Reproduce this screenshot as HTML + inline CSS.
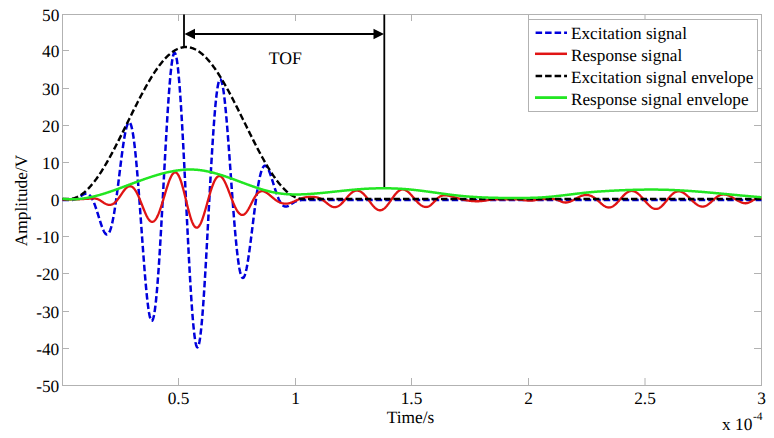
<!DOCTYPE html>
<html><head><meta charset="utf-8"><style>
html,body{margin:0;padding:0;background:#fff;width:774px;height:438px;overflow:hidden}
svg{display:block}
text{font-family:"Liberation Serif",serif;font-size:17.33px;fill:#000;text-rendering:geometricPrecision}
</style></head><body>
<svg width="774" height="438" viewBox="0 0 774 438">
<rect x="0" y="0" width="774" height="438" fill="#fff"/>
<rect x="62.5" y="14.5" width="699" height="371" fill="none" stroke="#b2b2b2" stroke-width="1"/>
<path d="M178.5,385 V378 M178.5,14 V21 M295.5,385 V378 M295.5,14 V21 M411.5,385 V378 M411.5,14 V21 M528.5,385 V378 M528.5,14 V21 M645.0,385 V378 M645.0,14 V21 M62,50.5 H69 M761,50.5 H754 M62,88.5 H69 M761,88.5 H754 M62,125.5 H69 M761,125.5 H754 M62,162.5 H69 M761,162.5 H754 M62,199.5 H69 M761,199.5 H754 M62,236.5 H69 M761,236.5 H754 M62,273.5 H69 M761,273.5 H754 M62,311.5 H69 M761,311.5 H754 M62,348.5 H69 M761,348.5 H754" stroke="#b2b2b2" stroke-width="1" fill="none"/>
<g fill="none" stroke-linejoin="round">
<path d="M62.50,200.10 L63.00,200.10 L63.50,200.10 L64.00,200.10 L64.50,200.10 L65.00,200.10 L65.50,200.10 L66.00,200.10 L66.50,200.10 L67.00,200.10 L67.50,200.10 L68.00,200.10 L68.50,200.10 L69.00,200.10 L69.50,200.10 L70.00,200.10 L70.50,200.09 L71.00,200.07 L71.50,200.04 L72.00,199.99 L72.50,199.93 L73.00,199.85 L73.50,199.75 L74.00,199.64 L74.50,199.50 L75.00,199.33 L75.50,199.15 L76.00,198.94 L76.50,198.71 L77.00,198.46 L77.50,198.18 L78.00,197.90 L78.50,197.59 L79.00,197.27 L79.50,196.94 L80.00,196.61 L80.50,196.27 L81.00,195.93 L81.50,195.60 L82.00,195.27 L82.50,194.96 L83.00,194.68 L83.50,194.41 L84.00,194.18 L84.50,193.99 L85.00,193.83 L85.50,193.72 L86.00,193.67 L86.50,193.67 L87.00,193.73 L87.50,193.86 L88.00,194.06 L88.50,194.33 L89.00,194.68 L89.50,195.12 L90.00,195.63 L90.50,196.23 L91.00,196.92 L91.50,197.69 L92.00,198.55 L92.50,199.49 L93.00,200.52 L93.50,201.63 L94.00,202.82 L94.50,204.08 L95.00,205.41 L95.50,206.80 L96.00,208.25 L96.50,209.75 L97.00,211.29 L97.50,212.86 L98.00,214.46 L98.50,216.08 L99.00,217.70 L99.50,219.31 L100.00,220.90 L100.50,222.46 L101.00,223.99 L101.50,225.45 L102.00,226.85 L102.50,228.17 L103.00,229.40 L103.50,230.53 L104.00,231.54 L104.50,232.42 L105.00,233.16 L105.50,233.75 L106.00,234.18 L106.50,234.43 L107.00,234.51 L107.50,234.40 L108.00,234.09 L108.50,233.57 L109.00,232.85 L109.50,231.92 L110.00,230.77 L110.50,229.40 L111.00,227.82 L111.50,226.02 L112.00,224.00 L112.50,221.77 L113.00,219.33 L113.50,216.69 L114.00,213.86 L114.50,210.85 L115.00,207.66 L115.50,204.31 L116.00,200.82 L116.50,197.19 L117.00,193.44 L117.50,189.60 L118.00,185.67 L118.50,181.68 L119.00,177.65 L119.50,173.59 L120.00,169.54 L120.50,165.51 L121.00,161.52 L121.50,157.60 L122.00,153.77 L122.50,150.06 L123.00,146.49 L123.50,143.08 L124.00,139.85 L124.50,136.83 L125.00,134.04 L125.50,131.50 L126.00,129.23 L126.50,127.24 L127.00,125.57 L127.50,124.22 L128.00,123.22 L128.50,122.56 L129.00,122.28 L129.50,122.37 L130.00,122.84 L130.50,123.71 L131.00,124.98 L131.50,126.64 L132.00,128.71 L132.50,131.17 L133.00,134.03 L133.50,137.28 L134.00,140.91 L134.50,144.91 L135.00,149.26 L135.50,153.96 L136.00,158.99 L136.50,164.32 L137.00,169.94 L137.50,175.82 L138.00,181.94 L138.50,188.27 L139.00,194.78 L139.50,201.44 L140.00,208.23 L140.50,215.11 L141.00,222.05 L141.50,229.00 L142.00,235.95 L142.50,242.85 L143.00,249.67 L143.50,256.37 L144.00,262.91 L144.50,269.27 L145.00,275.40 L145.50,281.28 L146.00,286.86 L146.50,292.12 L147.00,297.02 L147.50,301.54 L148.00,305.64 L148.50,309.30 L149.00,312.50 L149.50,315.22 L150.00,317.42 L150.50,319.11 L151.00,320.25 L151.50,320.83 L152.00,320.86 L152.50,320.31 L153.00,319.19 L153.50,317.49 L154.00,315.22 L154.50,312.38 L155.00,308.97 L155.50,305.01 L156.00,300.51 L156.50,295.49 L157.00,289.96 L157.50,283.94 L158.00,277.47 L158.50,270.57 L159.00,263.26 L159.50,255.59 L160.00,247.57 L160.50,239.26 L161.00,230.68 L161.50,221.88 L162.00,212.90 L162.50,203.78 L163.00,194.56 L163.50,185.29 L164.00,176.01 L164.50,166.77 L165.00,157.61 L165.50,148.57 L166.00,139.71 L166.50,131.07 L167.00,122.69 L167.50,114.61 L168.00,106.87 L168.50,99.52 L169.00,92.59 L169.50,86.12 L170.00,80.14 L170.50,74.68 L171.00,69.78 L171.50,65.46 L172.00,61.74 L172.50,58.65 L173.00,56.20 L173.50,54.41 L174.00,53.28 L174.50,52.84 L175.00,53.08 L175.50,54.00 L176.00,55.60 L176.50,57.88 L177.00,60.83 L177.50,64.44 L178.00,68.69 L178.50,73.55 L179.00,79.02 L179.50,85.07 L180.00,91.66 L180.50,98.77 L181.00,106.37 L181.50,114.41 L182.00,122.86 L182.50,131.68 L183.00,140.84 L183.50,150.27 L184.00,159.95 L184.50,169.81 L185.00,179.83 L185.50,189.94 L186.00,200.10 L186.50,210.26 L187.00,220.37 L187.50,230.39 L188.00,240.25 L188.50,249.93 L189.00,259.36 L189.50,268.52 L190.00,277.34 L190.50,285.79 L191.00,293.83 L191.50,301.43 L192.00,308.54 L192.50,315.13 L193.00,321.18 L193.50,326.65 L194.00,331.51 L194.50,335.76 L195.00,339.37 L195.50,342.32 L196.00,344.60 L196.50,346.20 L197.00,347.12 L197.50,347.36 L198.00,346.92 L198.50,345.79 L199.00,344.00 L199.50,341.55 L200.00,338.46 L200.50,334.74 L201.00,330.42 L201.50,325.52 L202.00,320.06 L202.50,314.08 L203.00,307.61 L203.50,300.68 L204.00,293.33 L204.50,285.59 L205.00,277.51 L205.50,269.13 L206.00,260.49 L206.50,251.63 L207.00,242.59 L207.50,233.43 L208.00,224.19 L208.50,214.91 L209.00,205.64 L209.50,196.42 L210.00,187.30 L210.50,178.32 L211.00,169.52 L211.50,160.94 L212.00,152.63 L212.50,144.61 L213.00,136.94 L213.50,129.63 L214.00,122.73 L214.50,116.26 L215.00,110.24 L215.50,104.71 L216.00,99.69 L216.50,95.19 L217.00,91.23 L217.50,87.82 L218.00,84.98 L218.50,82.71 L219.00,81.01 L219.50,79.89 L220.00,79.34 L220.50,79.37 L221.00,79.95 L221.50,81.09 L222.00,82.78 L222.50,84.98 L223.00,87.70 L223.50,90.90 L224.00,94.56 L224.50,98.66 L225.00,103.18 L225.50,108.08 L226.00,113.34 L226.50,118.92 L227.00,124.80 L227.50,130.93 L228.00,137.29 L228.50,143.83 L229.00,150.53 L229.50,157.35 L230.00,164.25 L230.50,171.20 L231.00,178.15 L231.50,185.09 L232.00,191.97 L232.50,198.76 L233.00,205.42 L233.50,211.93 L234.00,218.26 L234.50,224.38 L235.00,230.26 L235.50,235.88 L236.00,241.21 L236.50,246.24 L237.00,250.94 L237.50,255.29 L238.00,259.29 L238.50,262.92 L239.00,266.17 L239.50,269.03 L240.00,271.49 L240.50,273.56 L241.00,275.22 L241.50,276.49 L242.00,277.36 L242.50,277.83 L243.00,277.92 L243.50,277.64 L244.00,276.98 L244.50,275.98 L245.00,274.63 L245.50,272.96 L246.00,270.97 L246.50,268.70 L247.00,266.16 L247.50,263.37 L248.00,260.35 L248.50,257.12 L249.00,253.71 L249.50,250.14 L250.00,246.43 L250.50,242.60 L251.00,238.68 L251.50,234.69 L252.00,230.66 L252.50,226.61 L253.00,222.55 L253.50,218.52 L254.00,214.53 L254.50,210.60 L255.00,206.76 L255.50,203.01 L256.00,199.38 L256.50,195.89 L257.00,192.54 L257.50,189.35 L258.00,186.34 L258.50,183.51 L259.00,180.87 L259.50,178.43 L260.00,176.20 L260.50,174.18 L261.00,172.38 L261.50,170.80 L262.00,169.43 L262.50,168.28 L263.00,167.35 L263.50,166.63 L264.00,166.11 L264.50,165.80 L265.00,165.69 L265.50,165.77 L266.00,166.02 L266.50,166.45 L267.00,167.04 L267.50,167.78 L268.00,168.66 L268.50,169.67 L269.00,170.80 L269.50,172.03 L270.00,173.35 L270.50,174.75 L271.00,176.21 L271.50,177.74 L272.00,179.30 L272.50,180.89 L273.00,182.50 L273.50,184.12 L274.00,185.74 L274.50,187.34 L275.00,188.91 L275.50,190.45 L276.00,191.95 L276.50,193.40 L277.00,194.79 L277.50,196.12 L278.00,197.38 L278.50,198.57 L279.00,199.68 L279.50,200.71 L280.00,201.65 L280.50,202.51 L281.00,203.28 L281.50,203.97 L282.00,204.57 L282.50,205.08 L283.00,205.52 L283.50,205.87 L284.00,206.14 L284.50,206.34 L285.00,206.47 L285.50,206.53 L286.00,206.53 L286.50,206.48 L287.00,206.37 L287.50,206.21 L288.00,206.02 L288.50,205.79 L289.00,205.52 L289.50,205.24 L290.00,204.93 L290.50,204.60 L291.00,204.27 L291.50,203.93 L292.00,203.59 L292.50,203.26 L293.00,202.93 L293.50,202.61 L294.00,202.30 L294.50,202.02 L295.00,201.74 L295.50,201.49 L296.00,201.26 L296.50,201.05 L297.00,200.87 L297.50,200.70 L298.00,200.56 L298.50,200.45 L299.00,200.35 L299.50,200.27 L300.00,200.21 L300.50,200.16 L301.00,200.13 L301.50,200.11 L302.00,200.10 L302.50,200.10 L303.00,200.10 L303.50,200.10 L304.00,200.10 L304.50,200.10 L305.00,200.10 L305.50,200.10 L306.00,200.10 L306.50,200.10 L307.00,200.10 L307.50,200.10 L308.00,200.10 L308.50,200.10 L309.00,200.10 L309.50,200.10 L310.00,200.10 L310.50,200.10 L311.00,200.10 L311.50,200.10 L312.00,200.10 L312.50,200.10 L313.00,200.10 L313.50,200.10 L314.00,200.10 L314.50,200.10 L315.00,200.10 L315.50,200.10 L316.00,200.10 L316.50,200.10 L317.00,200.10 L317.50,200.10 L318.00,200.10 L318.50,200.10 L319.00,200.10 L319.50,200.10 L320.00,200.10 L320.50,200.10 L321.00,200.10 L321.50,200.10 L322.00,200.10 L322.50,200.10 L323.00,200.10 L323.50,200.10 L324.00,200.10 L324.50,200.10 L325.00,200.10 L325.50,200.10 L326.00,200.10 L326.50,200.10 L327.00,200.10 L327.50,200.10 L328.00,200.10 L328.50,200.10 L329.00,200.10 L329.50,200.10 L330.00,200.10 L330.50,200.10 L331.00,200.10 L331.50,200.10 L332.00,200.10 L332.50,200.10 L333.00,200.10 L333.50,200.10 L334.00,200.10 L334.50,200.10 L335.00,200.10 L335.50,200.10 L336.00,200.10 L336.50,200.10 L337.00,200.10 L337.50,200.10 L338.00,200.10 L338.50,200.10 L339.00,200.10 L339.50,200.10 L340.00,200.10 L340.50,200.10 L341.00,200.10 L341.50,200.10 L342.00,200.10 L342.50,200.10 L343.00,200.10 L343.50,200.10 L344.00,200.10 L344.50,200.10 L345.00,200.10 L345.50,200.10 L346.00,200.10 L346.50,200.10 L347.00,200.10 L347.50,200.10 L348.00,200.10 L348.50,200.10 L349.00,200.10 L349.50,200.10 L350.00,200.10 L350.50,200.10 L351.00,200.10 L351.50,200.10 L352.00,200.10 L352.50,200.10 L353.00,200.10 L353.50,200.10 L354.00,200.10 L354.50,200.10 L355.00,200.10 L355.50,200.10 L356.00,200.10 L356.50,200.10 L357.00,200.10 L357.50,200.10 L358.00,200.10 L358.50,200.10 L359.00,200.10 L359.50,200.10 L360.00,200.10 L360.50,200.10 L361.00,200.10 L361.50,200.10 L362.00,200.10 L362.50,200.10 L363.00,200.10 L363.50,200.10 L364.00,200.10 L364.50,200.10 L365.00,200.10 L365.50,200.10 L366.00,200.10 L366.50,200.10 L367.00,200.10 L367.50,200.10 L368.00,200.10 L368.50,200.10 L369.00,200.10 L369.50,200.10 L370.00,200.10 L370.50,200.10 L371.00,200.10 L371.50,200.10 L372.00,200.10 L372.50,200.10 L373.00,200.10 L373.50,200.10 L374.00,200.10 L374.50,200.10 L375.00,200.10 L375.50,200.10 L376.00,200.10 L376.50,200.10 L377.00,200.10 L377.50,200.10 L378.00,200.10 L378.50,200.10 L379.00,200.10 L379.50,200.10 L380.00,200.10 L380.50,200.10 L381.00,200.10 L381.50,200.10 L382.00,200.10 L382.50,200.10 L383.00,200.10 L383.50,200.10 L384.00,200.10 L384.50,200.10 L385.00,200.10 L385.50,200.10 L386.00,200.10 L386.50,200.10 L387.00,200.10 L387.50,200.10 L388.00,200.10 L388.50,200.10 L389.00,200.10 L389.50,200.10 L390.00,200.10 L390.50,200.10 L391.00,200.10 L391.50,200.10 L392.00,200.10 L392.50,200.10 L393.00,200.10 L393.50,200.10 L394.00,200.10 L394.50,200.10 L395.00,200.10 L395.50,200.10 L396.00,200.10 L396.50,200.10 L397.00,200.10 L397.50,200.10 L398.00,200.10 L398.50,200.10 L399.00,200.10 L399.50,200.10 L400.00,200.10 L400.50,200.10 L401.00,200.10 L401.50,200.10 L402.00,200.10 L402.50,200.10 L403.00,200.10 L403.50,200.10 L404.00,200.10 L404.50,200.10 L405.00,200.10 L405.50,200.10 L406.00,200.10 L406.50,200.10 L407.00,200.10 L407.50,200.10 L408.00,200.10 L408.50,200.10 L409.00,200.10 L409.50,200.10 L410.00,200.10 L410.50,200.10 L411.00,200.10 L411.50,200.10 L412.00,200.10 L412.50,200.10 L413.00,200.10 L413.50,200.10 L414.00,200.10 L414.50,200.10 L415.00,200.10 L415.50,200.10 L416.00,200.10 L416.50,200.10 L417.00,200.10 L417.50,200.10 L418.00,200.10 L418.50,200.10 L419.00,200.10 L419.50,200.10 L420.00,200.10 L420.50,200.10 L421.00,200.10 L421.50,200.10 L422.00,200.10 L422.50,200.10 L423.00,200.10 L423.50,200.10 L424.00,200.10 L424.50,200.10 L425.00,200.10 L425.50,200.10 L426.00,200.10 L426.50,200.10 L427.00,200.10 L427.50,200.10 L428.00,200.10 L428.50,200.10 L429.00,200.10 L429.50,200.10 L430.00,200.10 L430.50,200.10 L431.00,200.10 L431.50,200.10 L432.00,200.10 L432.50,200.10 L433.00,200.10 L433.50,200.10 L434.00,200.10 L434.50,200.10 L435.00,200.10 L435.50,200.10 L436.00,200.10 L436.50,200.10 L437.00,200.10 L437.50,200.10 L438.00,200.10 L438.50,200.10 L439.00,200.10 L439.50,200.10 L440.00,200.10 L440.50,200.10 L441.00,200.10 L441.50,200.10 L442.00,200.10 L442.50,200.10 L443.00,200.10 L443.50,200.10 L444.00,200.10 L444.50,200.10 L445.00,200.10 L445.50,200.10 L446.00,200.10 L446.50,200.10 L447.00,200.10 L447.50,200.10 L448.00,200.10 L448.50,200.10 L449.00,200.10 L449.50,200.10 L450.00,200.10 L450.50,200.10 L451.00,200.10 L451.50,200.10 L452.00,200.10 L452.50,200.10 L453.00,200.10 L453.50,200.10 L454.00,200.10 L454.50,200.10 L455.00,200.10 L455.50,200.10 L456.00,200.10 L456.50,200.10 L457.00,200.10 L457.50,200.10 L458.00,200.10 L458.50,200.10 L459.00,200.10 L459.50,200.10 L460.00,200.10 L460.50,200.10 L461.00,200.10 L461.50,200.10 L462.00,200.10 L462.50,200.10 L463.00,200.10 L463.50,200.10 L464.00,200.10 L464.50,200.10 L465.00,200.10 L465.50,200.10 L466.00,200.10 L466.50,200.10 L467.00,200.10 L467.50,200.10 L468.00,200.10 L468.50,200.10 L469.00,200.10 L469.50,200.10 L470.00,200.10 L470.50,200.10 L471.00,200.10 L471.50,200.10 L472.00,200.10 L472.50,200.10 L473.00,200.10 L473.50,200.10 L474.00,200.10 L474.50,200.10 L475.00,200.10 L475.50,200.10 L476.00,200.10 L476.50,200.10 L477.00,200.10 L477.50,200.10 L478.00,200.10 L478.50,200.10 L479.00,200.10 L479.50,200.10 L480.00,200.10 L480.50,200.10 L481.00,200.10 L481.50,200.10 L482.00,200.10 L482.50,200.10 L483.00,200.10 L483.50,200.10 L484.00,200.10 L484.50,200.10 L485.00,200.10 L485.50,200.10 L486.00,200.10 L486.50,200.10 L487.00,200.10 L487.50,200.10 L488.00,200.10 L488.50,200.10 L489.00,200.10 L489.50,200.10 L490.00,200.10 L490.50,200.10 L491.00,200.10 L491.50,200.10 L492.00,200.10 L492.50,200.10 L493.00,200.10 L493.50,200.10 L494.00,200.10 L494.50,200.10 L495.00,200.10 L495.50,200.10 L496.00,200.10 L496.50,200.10 L497.00,200.10 L497.50,200.10 L498.00,200.10 L498.50,200.10 L499.00,200.10 L499.50,200.10 L500.00,200.10 L500.50,200.10 L501.00,200.10 L501.50,200.10 L502.00,200.10 L502.50,200.10 L503.00,200.10 L503.50,200.10 L504.00,200.10 L504.50,200.10 L505.00,200.10 L505.50,200.10 L506.00,200.10 L506.50,200.10 L507.00,200.10 L507.50,200.10 L508.00,200.10 L508.50,200.10 L509.00,200.10 L509.50,200.10 L510.00,200.10 L510.50,200.10 L511.00,200.10 L511.50,200.10 L512.00,200.10 L512.50,200.10 L513.00,200.10 L513.50,200.10 L514.00,200.10 L514.50,200.10 L515.00,200.10 L515.50,200.10 L516.00,200.10 L516.50,200.10 L517.00,200.10 L517.50,200.10 L518.00,200.10 L518.50,200.10 L519.00,200.10 L519.50,200.10 L520.00,200.10 L520.50,200.10 L521.00,200.10 L521.50,200.10 L522.00,200.10 L522.50,200.10 L523.00,200.10 L523.50,200.10 L524.00,200.10 L524.50,200.10 L525.00,200.10 L525.50,200.10 L526.00,200.10 L526.50,200.10 L527.00,200.10 L527.50,200.10 L528.00,200.10 L528.50,200.10 L529.00,200.10 L529.50,200.10 L530.00,200.10 L530.50,200.10 L531.00,200.10 L531.50,200.10 L532.00,200.10 L532.50,200.10 L533.00,200.10 L533.50,200.10 L534.00,200.10 L534.50,200.10 L535.00,200.10 L535.50,200.10 L536.00,200.10 L536.50,200.10 L537.00,200.10 L537.50,200.10 L538.00,200.10 L538.50,200.10 L539.00,200.10 L539.50,200.10 L540.00,200.10 L540.50,200.10 L541.00,200.10 L541.50,200.10 L542.00,200.10 L542.50,200.10 L543.00,200.10 L543.50,200.10 L544.00,200.10 L544.50,200.10 L545.00,200.10 L545.50,200.10 L546.00,200.10 L546.50,200.10 L547.00,200.10 L547.50,200.10 L548.00,200.10 L548.50,200.10 L549.00,200.10 L549.50,200.10 L550.00,200.10 L550.50,200.10 L551.00,200.10 L551.50,200.10 L552.00,200.10 L552.50,200.10 L553.00,200.10 L553.50,200.10 L554.00,200.10 L554.50,200.10 L555.00,200.10 L555.50,200.10 L556.00,200.10 L556.50,200.10 L557.00,200.10 L557.50,200.10 L558.00,200.10 L558.50,200.10 L559.00,200.10 L559.50,200.10 L560.00,200.10 L560.50,200.10 L561.00,200.10 L561.50,200.10 L562.00,200.10 L562.50,200.10 L563.00,200.10 L563.50,200.10 L564.00,200.10 L564.50,200.10 L565.00,200.10 L565.50,200.10 L566.00,200.10 L566.50,200.10 L567.00,200.10 L567.50,200.10 L568.00,200.10 L568.50,200.10 L569.00,200.10 L569.50,200.10 L570.00,200.10 L570.50,200.10 L571.00,200.10 L571.50,200.10 L572.00,200.10 L572.50,200.10 L573.00,200.10 L573.50,200.10 L574.00,200.10 L574.50,200.10 L575.00,200.10 L575.50,200.10 L576.00,200.10 L576.50,200.10 L577.00,200.10 L577.50,200.10 L578.00,200.10 L578.50,200.10 L579.00,200.10 L579.50,200.10 L580.00,200.10 L580.50,200.10 L581.00,200.10 L581.50,200.10 L582.00,200.10 L582.50,200.10 L583.00,200.10 L583.50,200.10 L584.00,200.10 L584.50,200.10 L585.00,200.10 L585.50,200.10 L586.00,200.10 L586.50,200.10 L587.00,200.10 L587.50,200.10 L588.00,200.10 L588.50,200.10 L589.00,200.10 L589.50,200.10 L590.00,200.10 L590.50,200.10 L591.00,200.10 L591.50,200.10 L592.00,200.10 L592.50,200.10 L593.00,200.10 L593.50,200.10 L594.00,200.10 L594.50,200.10 L595.00,200.10 L595.50,200.10 L596.00,200.10 L596.50,200.10 L597.00,200.10 L597.50,200.10 L598.00,200.10 L598.50,200.10 L599.00,200.10 L599.50,200.10 L600.00,200.10 L600.50,200.10 L601.00,200.10 L601.50,200.10 L602.00,200.10 L602.50,200.10 L603.00,200.10 L603.50,200.10 L604.00,200.10 L604.50,200.10 L605.00,200.10 L605.50,200.10 L606.00,200.10 L606.50,200.10 L607.00,200.10 L607.50,200.10 L608.00,200.10 L608.50,200.10 L609.00,200.10 L609.50,200.10 L610.00,200.10 L610.50,200.10 L611.00,200.10 L611.50,200.10 L612.00,200.10 L612.50,200.10 L613.00,200.10 L613.50,200.10 L614.00,200.10 L614.50,200.10 L615.00,200.10 L615.50,200.10 L616.00,200.10 L616.50,200.10 L617.00,200.10 L617.50,200.10 L618.00,200.10 L618.50,200.10 L619.00,200.10 L619.50,200.10 L620.00,200.10 L620.50,200.10 L621.00,200.10 L621.50,200.10 L622.00,200.10 L622.50,200.10 L623.00,200.10 L623.50,200.10 L624.00,200.10 L624.50,200.10 L625.00,200.10 L625.50,200.10 L626.00,200.10 L626.50,200.10 L627.00,200.10 L627.50,200.10 L628.00,200.10 L628.50,200.10 L629.00,200.10 L629.50,200.10 L630.00,200.10 L630.50,200.10 L631.00,200.10 L631.50,200.10 L632.00,200.10 L632.50,200.10 L633.00,200.10 L633.50,200.10 L634.00,200.10 L634.50,200.10 L635.00,200.10 L635.50,200.10 L636.00,200.10 L636.50,200.10 L637.00,200.10 L637.50,200.10 L638.00,200.10 L638.50,200.10 L639.00,200.10 L639.50,200.10 L640.00,200.10 L640.50,200.10 L641.00,200.10 L641.50,200.10 L642.00,200.10 L642.50,200.10 L643.00,200.10 L643.50,200.10 L644.00,200.10 L644.50,200.10 L645.00,200.10 L645.50,200.10 L646.00,200.10 L646.50,200.10 L647.00,200.10 L647.50,200.10 L648.00,200.10 L648.50,200.10 L649.00,200.10 L649.50,200.10 L650.00,200.10 L650.50,200.10 L651.00,200.10 L651.50,200.10 L652.00,200.10 L652.50,200.10 L653.00,200.10 L653.50,200.10 L654.00,200.10 L654.50,200.10 L655.00,200.10 L655.50,200.10 L656.00,200.10 L656.50,200.10 L657.00,200.10 L657.50,200.10 L658.00,200.10 L658.50,200.10 L659.00,200.10 L659.50,200.10 L660.00,200.10 L660.50,200.10 L661.00,200.10 L661.50,200.10 L662.00,200.10 L662.50,200.10 L663.00,200.10 L663.50,200.10 L664.00,200.10 L664.50,200.10 L665.00,200.10 L665.50,200.10 L666.00,200.10 L666.50,200.10 L667.00,200.10 L667.50,200.10 L668.00,200.10 L668.50,200.10 L669.00,200.10 L669.50,200.10 L670.00,200.10 L670.50,200.10 L671.00,200.10 L671.50,200.10 L672.00,200.10 L672.50,200.10 L673.00,200.10 L673.50,200.10 L674.00,200.10 L674.50,200.10 L675.00,200.10 L675.50,200.10 L676.00,200.10 L676.50,200.10 L677.00,200.10 L677.50,200.10 L678.00,200.10 L678.50,200.10 L679.00,200.10 L679.50,200.10 L680.00,200.10 L680.50,200.10 L681.00,200.10 L681.50,200.10 L682.00,200.10 L682.50,200.10 L683.00,200.10 L683.50,200.10 L684.00,200.10 L684.50,200.10 L685.00,200.10 L685.50,200.10 L686.00,200.10 L686.50,200.10 L687.00,200.10 L687.50,200.10 L688.00,200.10 L688.50,200.10 L689.00,200.10 L689.50,200.10 L690.00,200.10 L690.50,200.10 L691.00,200.10 L691.50,200.10 L692.00,200.10 L692.50,200.10 L693.00,200.10 L693.50,200.10 L694.00,200.10 L694.50,200.10 L695.00,200.10 L695.50,200.10 L696.00,200.10 L696.50,200.10 L697.00,200.10 L697.50,200.10 L698.00,200.10 L698.50,200.10 L699.00,200.10 L699.50,200.10 L700.00,200.10 L700.50,200.10 L701.00,200.10 L701.50,200.10 L702.00,200.10 L702.50,200.10 L703.00,200.10 L703.50,200.10 L704.00,200.10 L704.50,200.10 L705.00,200.10 L705.50,200.10 L706.00,200.10 L706.50,200.10 L707.00,200.10 L707.50,200.10 L708.00,200.10 L708.50,200.10 L709.00,200.10 L709.50,200.10 L710.00,200.10 L710.50,200.10 L711.00,200.10 L711.50,200.10 L712.00,200.10 L712.50,200.10 L713.00,200.10 L713.50,200.10 L714.00,200.10 L714.50,200.10 L715.00,200.10 L715.50,200.10 L716.00,200.10 L716.50,200.10 L717.00,200.10 L717.50,200.10 L718.00,200.10 L718.50,200.10 L719.00,200.10 L719.50,200.10 L720.00,200.10 L720.50,200.10 L721.00,200.10 L721.50,200.10 L722.00,200.10 L722.50,200.10 L723.00,200.10 L723.50,200.10 L724.00,200.10 L724.50,200.10 L725.00,200.10 L725.50,200.10 L726.00,200.10 L726.50,200.10 L727.00,200.10 L727.50,200.10 L728.00,200.10 L728.50,200.10 L729.00,200.10 L729.50,200.10 L730.00,200.10 L730.50,200.10 L731.00,200.10 L731.50,200.10 L732.00,200.10 L732.50,200.10 L733.00,200.10 L733.50,200.10 L734.00,200.10 L734.50,200.10 L735.00,200.10 L735.50,200.10 L736.00,200.10 L736.50,200.10 L737.00,200.10 L737.50,200.10 L738.00,200.10 L738.50,200.10 L739.00,200.10 L739.50,200.10 L740.00,200.10 L740.50,200.10 L741.00,200.10 L741.50,200.10 L742.00,200.10 L742.50,200.10 L743.00,200.10 L743.50,200.10 L744.00,200.10 L744.50,200.10 L745.00,200.10 L745.50,200.10 L746.00,200.10 L746.50,200.10 L747.00,200.10 L747.50,200.10 L748.00,200.10 L748.50,200.10 L749.00,200.10 L749.50,200.10 L750.00,200.10 L750.50,200.10 L751.00,200.10 L751.50,200.10 L752.00,200.10 L752.50,200.10 L753.00,200.10 L753.50,200.10 L754.00,200.10 L754.50,200.10 L755.00,200.10 L755.50,200.10 L756.00,200.10 L756.50,200.10 L757.00,200.10 L757.50,200.10 L758.00,200.10 L758.50,200.10 L759.00,200.10 L759.50,200.10 L760.00,200.10 L760.50,200.10 L761.00,200.10 L761.50,200.10" stroke="#0000dc" stroke-width="2.5" stroke-dasharray="6.5 3"/>
<path d="M62.50,199.50 L63.00,199.50 L63.50,199.50 L64.00,199.50 L64.50,199.50 L65.00,199.50 L65.50,199.50 L66.00,199.50 L66.50,199.50 L67.00,199.50 L67.50,199.50 L68.00,199.50 L68.50,199.49 L69.00,199.49 L69.50,199.49 L70.00,199.49 L70.50,199.48 L71.00,199.48 L71.50,199.47 L72.00,199.47 L72.50,199.46 L73.00,199.45 L73.50,199.44 L74.00,199.43 L74.50,199.42 L75.00,199.41 L75.50,199.40 L76.00,199.38 L76.50,199.36 L77.00,199.35 L77.50,199.33 L78.00,199.31 L78.50,199.29 L79.00,199.27 L79.50,199.24 L80.00,199.22 L80.50,199.19 L81.00,199.17 L81.50,199.14 L82.00,199.11 L82.50,199.08 L83.00,199.05 L83.50,199.02 L84.00,198.99 L84.50,198.96 L85.00,198.93 L85.50,198.90 L86.00,198.87 L86.50,198.84 L87.00,198.81 L87.50,198.78 L88.00,198.76 L88.50,198.73 L89.00,198.69 L89.50,198.66 L90.00,198.61 L90.50,198.57 L91.00,198.53 L91.50,198.49 L92.00,198.46 L92.50,198.43 L93.00,198.42 L93.50,198.41 L94.00,198.42 L94.50,198.45 L95.00,198.49 L95.50,198.56 L96.00,198.65 L96.50,198.77 L97.00,198.91 L97.50,199.08 L98.00,199.28 L98.50,199.50 L99.00,199.75 L99.50,200.03 L100.00,200.32 L100.50,200.63 L101.00,200.95 L101.50,201.29 L102.00,201.63 L102.50,201.98 L103.00,202.32 L103.50,202.65 L104.00,202.97 L104.50,203.27 L105.00,203.56 L105.50,203.82 L106.00,204.05 L106.50,204.25 L107.00,204.43 L107.50,204.57 L108.00,204.68 L108.50,204.77 L109.00,204.82 L109.50,204.84 L110.00,204.83 L110.50,204.77 L111.00,204.68 L111.50,204.55 L112.00,204.38 L112.50,204.16 L113.00,203.90 L113.50,203.60 L114.00,203.25 L114.50,202.86 L115.00,202.43 L115.50,201.96 L116.00,201.45 L116.50,200.91 L117.00,200.32 L117.50,199.71 L118.00,199.07 L118.50,198.40 L119.00,197.71 L119.50,197.00 L120.00,196.28 L120.50,195.55 L121.00,194.81 L121.50,194.07 L122.00,193.34 L122.50,192.61 L123.00,191.90 L123.50,191.22 L124.00,190.55 L124.50,189.92 L125.00,189.32 L125.50,188.76 L126.00,188.25 L126.50,187.78 L127.00,187.37 L127.50,187.02 L128.00,186.73 L128.50,186.50 L129.00,186.33 L129.50,186.24 L130.00,186.20 L130.50,186.24 L131.00,186.35 L131.50,186.53 L132.00,186.78 L132.50,187.10 L133.00,187.50 L133.50,187.97 L134.00,188.52 L134.50,189.13 L135.00,189.82 L135.50,190.57 L136.00,191.38 L136.50,192.26 L137.00,193.20 L137.50,194.20 L138.00,195.25 L138.50,196.34 L139.00,197.48 L139.50,198.66 L140.00,199.87 L140.50,201.10 L141.00,202.36 L141.50,203.63 L142.00,204.91 L142.50,206.19 L143.00,207.46 L143.50,208.72 L144.00,209.97 L144.50,211.18 L145.00,212.37 L145.50,213.51 L146.00,214.61 L146.50,215.65 L147.00,216.63 L147.50,217.54 L148.00,218.38 L148.50,219.15 L149.00,219.82 L149.50,220.41 L150.00,220.91 L150.50,221.31 L151.00,221.60 L151.50,221.79 L152.00,221.88 L152.50,221.86 L153.00,221.74 L153.50,221.51 L154.00,221.18 L154.50,220.75 L155.00,220.22 L155.50,219.59 L156.00,218.87 L156.50,218.05 L157.00,217.13 L157.50,216.13 L158.00,215.04 L158.50,213.88 L159.00,212.63 L159.50,211.32 L160.00,209.94 L160.50,208.50 L161.00,207.01 L161.50,205.47 L162.00,203.89 L162.50,202.27 L163.00,200.62 L163.50,198.96 L164.00,197.28 L164.50,195.60 L165.00,193.91 L165.50,192.24 L166.00,190.59 L166.50,188.96 L167.00,187.36 L167.50,185.81 L168.00,184.30 L168.50,182.86 L169.00,181.48 L169.50,180.17 L170.00,178.94 L170.50,177.79 L171.00,176.74 L171.50,175.79 L172.00,174.94 L172.50,174.21 L173.00,173.59 L173.50,173.10 L174.00,172.73 L174.50,172.49 L175.00,172.38 L175.50,172.41 L176.00,172.56 L176.50,172.86 L177.00,173.29 L177.50,173.86 L178.00,174.56 L178.50,175.39 L179.00,176.36 L179.50,177.45 L180.00,178.66 L180.50,180.00 L181.00,181.44 L181.50,182.98 L182.00,184.63 L182.50,186.36 L183.00,188.16 L183.50,190.04 L184.00,191.97 L184.50,193.96 L185.00,195.97 L185.50,198.02 L186.00,200.07 L186.50,202.13 L187.00,204.17 L187.50,206.20 L188.00,208.19 L188.50,210.13 L189.00,212.01 L189.50,213.83 L190.00,215.57 L190.50,217.23 L191.00,218.78 L191.50,220.23 L192.00,221.57 L192.50,222.79 L193.00,223.88 L193.50,224.85 L194.00,225.68 L194.50,226.37 L195.00,226.92 L195.50,227.33 L196.00,227.60 L196.50,227.72 L197.00,227.71 L197.50,227.55 L198.00,227.25 L198.50,226.81 L199.00,226.23 L199.50,225.53 L200.00,224.70 L200.50,223.75 L201.00,222.68 L201.50,221.51 L202.00,220.24 L202.50,218.88 L203.00,217.44 L203.50,215.92 L204.00,214.33 L204.50,212.69 L205.00,211.00 L205.50,209.27 L206.00,207.51 L206.50,205.73 L207.00,203.94 L207.50,202.14 L208.00,200.35 L208.50,198.57 L209.00,196.81 L209.50,195.09 L210.00,193.40 L210.50,191.76 L211.00,190.17 L211.50,188.64 L212.00,187.18 L212.50,185.78 L213.00,184.47 L213.50,183.23 L214.00,182.08 L214.50,181.03 L215.00,180.07 L215.50,179.20 L216.00,178.44 L216.50,177.77 L217.00,177.22 L217.50,176.76 L218.00,176.42 L218.50,176.18 L219.00,176.04 L219.50,176.02 L220.00,176.10 L220.50,176.28 L221.00,176.57 L221.50,176.96 L222.00,177.46 L222.50,178.04 L223.00,178.72 L223.50,179.48 L224.00,180.32 L224.50,181.24 L225.00,182.22 L225.50,183.26 L226.00,184.36 L226.50,185.51 L227.00,186.71 L227.50,187.94 L228.00,189.20 L228.50,190.49 L229.00,191.80 L229.50,193.12 L230.00,194.44 L230.50,195.77 L231.00,197.09 L231.50,198.40 L232.00,199.69 L232.50,200.96 L233.00,202.20 L233.50,203.40 L234.00,204.57 L234.50,205.69 L235.00,206.77 L235.50,207.79 L236.00,208.76 L236.50,209.67 L237.00,210.51 L237.50,211.29 L238.00,211.99 L238.50,212.63 L239.00,213.19 L239.50,213.67 L240.00,214.08 L240.50,214.41 L241.00,214.66 L241.50,214.83 L242.00,214.91 L242.50,214.92 L243.00,214.85 L243.50,214.69 L244.00,214.46 L244.50,214.15 L245.00,213.75 L245.50,213.28 L246.00,212.73 L246.50,212.11 L247.00,211.42 L247.50,210.67 L248.00,209.87 L248.50,209.02 L249.00,208.12 L249.50,207.19 L250.00,206.23 L250.50,205.25 L251.00,204.26 L251.50,203.27 L252.00,202.28 L252.50,201.30 L253.00,200.34 L253.50,199.40 L254.00,198.49 L254.50,197.63 L255.00,196.80 L255.50,196.02 L256.00,195.30 L256.50,194.63 L257.00,194.01 L257.50,193.46 L258.00,192.96 L258.50,192.53 L259.00,192.16 L259.50,191.85 L260.00,191.60 L260.50,191.41 L261.00,191.27 L261.50,191.19 L262.00,191.16 L262.50,191.17 L263.00,191.23 L263.50,191.33 L264.00,191.46 L264.50,191.64 L265.00,191.85 L265.50,192.10 L266.00,192.38 L266.50,192.68 L267.00,193.01 L267.50,193.36 L268.00,193.73 L268.50,194.11 L269.00,194.51 L269.50,194.92 L270.00,195.33 L270.50,195.76 L271.00,196.18 L271.50,196.61 L272.00,197.03 L272.50,197.46 L273.00,197.88 L273.50,198.29 L274.00,198.69 L274.50,199.09 L275.00,199.47 L275.50,199.84 L276.00,200.20 L276.50,200.54 L277.00,200.87 L277.50,201.18 L278.00,201.47 L278.50,201.75 L279.00,202.01 L279.50,202.25 L280.00,202.47 L280.50,202.68 L281.00,202.86 L281.50,203.02 L282.00,203.17 L282.50,203.29 L283.00,203.40 L283.50,203.49 L284.00,203.56 L284.50,203.61 L285.00,203.64 L285.50,203.65 L286.00,203.65 L286.50,203.63 L287.00,203.59 L287.50,203.53 L288.00,203.46 L288.50,203.36 L289.00,203.26 L289.50,203.13 L290.00,202.99 L290.50,202.84 L291.00,202.67 L291.50,202.50 L292.00,202.31 L292.50,202.12 L293.00,201.91 L293.50,201.70 L294.00,201.48 L294.50,201.26 L295.00,201.04 L295.50,200.82 L296.00,200.59 L296.50,200.37 L297.00,200.14 L297.50,199.92 L298.00,199.70 L298.50,199.49 L299.00,199.28 L299.50,199.08 L300.00,198.88 L300.50,198.69 L301.00,198.51 L301.50,198.34 L302.00,198.17 L302.50,198.02 L303.00,197.87 L303.50,197.74 L304.00,197.61 L304.50,197.50 L305.00,197.39 L305.50,197.30 L306.00,197.21 L306.50,197.14 L307.00,197.07 L307.50,197.02 L308.00,196.98 L308.50,196.94 L309.00,196.92 L309.50,196.90 L310.00,196.90 L310.50,196.90 L311.00,196.90 L311.50,196.90 L312.00,196.91 L312.50,196.92 L313.00,196.93 L313.50,196.95 L314.00,196.98 L314.50,197.01 L315.00,197.06 L315.50,197.12 L316.00,197.19 L316.50,197.28 L317.00,197.38 L317.50,197.50 L318.00,197.64 L318.50,197.80 L319.00,197.97 L319.50,198.17 L320.00,198.39 L320.50,198.63 L321.00,198.89 L321.50,199.18 L322.00,199.48 L322.50,199.80 L323.00,200.14 L323.50,200.49 L324.00,200.86 L324.50,201.25 L325.00,201.64 L325.50,202.04 L326.00,202.44 L326.50,202.85 L327.00,203.26 L327.50,203.67 L328.00,204.06 L328.50,204.45 L329.00,204.83 L329.50,205.18 L330.00,205.52 L330.50,205.83 L331.00,206.12 L331.50,206.38 L332.00,206.60 L332.50,206.79 L333.00,206.94 L333.50,207.05 L334.00,207.12 L334.50,207.14 L335.00,207.13 L335.50,207.08 L336.00,207.00 L336.50,206.87 L337.00,206.71 L337.50,206.51 L338.00,206.27 L338.50,205.99 L339.00,205.68 L339.50,205.33 L340.00,204.96 L340.50,204.55 L341.00,204.11 L341.50,203.64 L342.00,203.15 L342.50,202.64 L343.00,202.10 L343.50,201.55 L344.00,200.99 L344.50,200.41 L345.00,199.83 L345.50,199.24 L346.00,198.65 L346.50,198.06 L347.00,197.47 L347.50,196.89 L348.00,196.32 L348.50,195.77 L349.00,195.23 L349.50,194.71 L350.00,194.21 L350.50,193.73 L351.00,193.28 L351.50,192.86 L352.00,192.47 L352.50,192.11 L353.00,191.79 L353.50,191.50 L354.00,191.25 L354.50,191.04 L355.00,190.87 L355.50,190.73 L356.00,190.64 L356.50,190.58 L357.00,190.57 L357.50,190.60 L358.00,190.66 L358.50,190.77 L359.00,190.91 L359.50,191.10 L360.00,191.32 L360.50,191.58 L361.00,191.88 L361.50,192.22 L362.00,192.59 L362.50,192.99 L363.00,193.43 L363.50,193.90 L364.00,194.40 L364.50,194.93 L365.00,195.48 L365.50,196.06 L366.00,196.66 L366.50,197.27 L367.00,197.91 L367.50,198.55 L368.00,199.21 L368.50,199.88 L369.00,200.55 L369.50,201.22 L370.00,201.89 L370.50,202.56 L371.00,203.22 L371.50,203.86 L372.00,204.50 L372.50,205.11 L373.00,205.71 L373.50,206.28 L374.00,206.82 L374.50,207.34 L375.00,207.82 L375.50,208.26 L376.00,208.67 L376.50,209.03 L377.00,209.35 L377.50,209.63 L378.00,209.86 L378.50,210.04 L379.00,210.17 L379.50,210.25 L380.00,210.27 L380.50,210.25 L381.00,210.17 L381.50,210.05 L382.00,209.87 L382.50,209.65 L383.00,209.38 L383.50,209.06 L384.00,208.69 L384.50,208.29 L385.00,207.84 L385.50,207.35 L386.00,206.82 L386.50,206.26 L387.00,205.67 L387.50,205.05 L388.00,204.41 L388.50,203.74 L389.00,203.06 L389.50,202.36 L390.00,201.65 L390.50,200.92 L391.00,200.20 L391.50,199.47 L392.00,198.75 L392.50,198.03 L393.00,197.33 L393.50,196.63 L394.00,195.96 L394.50,195.30 L395.00,194.66 L395.50,194.06 L396.00,193.48 L396.50,192.93 L397.00,192.41 L397.50,191.93 L398.00,191.49 L398.50,191.09 L399.00,190.73 L399.50,190.42 L400.00,190.15 L400.50,189.92 L401.00,189.74 L401.50,189.60 L402.00,189.51 L402.50,189.47 L403.00,189.47 L403.50,189.52 L404.00,189.61 L404.50,189.75 L405.00,189.93 L405.50,190.16 L406.00,190.42 L406.50,190.72 L407.00,191.05 L407.50,191.42 L408.00,191.82 L408.50,192.25 L409.00,192.71 L409.50,193.19 L410.00,193.69 L410.50,194.21 L411.00,194.74 L411.50,195.30 L412.00,195.86 L412.50,196.43 L413.00,197.01 L413.50,197.59 L414.00,198.17 L414.50,198.75 L415.00,199.33 L415.50,199.91 L416.00,200.47 L416.50,201.02 L417.00,201.57 L417.50,202.09 L418.00,202.60 L418.50,203.09 L419.00,203.56 L419.50,204.00 L420.00,204.43 L420.50,204.82 L421.00,205.18 L421.50,205.52 L422.00,205.82 L422.50,206.09 L423.00,206.33 L423.50,206.53 L424.00,206.70 L424.50,206.83 L425.00,206.92 L425.50,206.97 L426.00,206.99 L426.50,206.96 L427.00,206.90 L427.50,206.79 L428.00,206.64 L428.50,206.45 L429.00,206.21 L429.50,205.93 L430.00,205.61 L430.50,205.25 L431.00,204.85 L431.50,204.42 L432.00,203.96 L432.50,203.47 L433.00,202.97 L433.50,202.45 L434.00,201.92 L434.50,201.38 L435.00,200.85 L435.50,200.33 L436.00,199.81 L436.50,199.31 L437.00,198.83 L437.50,198.37 L438.00,197.94 L438.50,197.54 L439.00,197.17 L439.50,196.84 L440.00,196.54 L440.50,196.27 L441.00,196.04 L441.50,195.85 L442.00,195.69 L442.50,195.56 L443.00,195.46 L443.50,195.38 L444.00,195.34 L444.50,195.32 L445.00,195.32 L445.50,195.33 L446.00,195.37 L446.50,195.41 L447.00,195.47 L447.50,195.54 L448.00,195.63 L448.50,195.72 L449.00,195.83 L449.50,195.94 L450.00,196.05 L450.50,196.18 L451.00,196.31 L451.50,196.44 L452.00,196.58 L452.50,196.72 L453.00,196.86 L453.50,197.01 L454.00,197.16 L454.50,197.30 L455.00,197.45 L455.50,197.60 L456.00,197.74 L456.50,197.89 L457.00,198.03 L457.50,198.17 L458.00,198.31 L458.50,198.45 L459.00,198.59 L459.50,198.72 L460.00,198.86 L460.50,198.99 L461.00,199.11 L461.50,199.24 L462.00,199.36 L462.50,199.47 L463.00,199.59 L463.50,199.70 L464.00,199.81 L464.50,199.91 L465.00,200.01 L465.50,200.11 L466.00,200.20 L466.50,200.30 L467.00,200.38 L467.50,200.47 L468.00,200.55 L468.50,200.62 L469.00,200.69 L469.50,200.76 L470.00,200.83 L470.50,200.89 L471.00,200.94 L471.50,201.00 L472.00,201.04 L472.50,201.09 L473.00,201.13 L473.50,201.16 L474.00,201.19 L474.50,201.22 L475.00,201.24 L475.50,201.25 L476.00,201.27 L476.50,201.27 L477.00,201.27 L477.50,201.27 L478.00,201.26 L478.50,201.25 L479.00,201.23 L479.50,201.20 L480.00,201.17 L480.50,201.14 L481.00,201.10 L481.50,201.05 L482.00,201.00 L482.50,200.94 L483.00,200.88 L483.50,200.82 L484.00,200.75 L484.50,200.68 L485.00,200.60 L485.50,200.52 L486.00,200.45 L486.50,200.37 L487.00,200.29 L487.50,200.21 L488.00,200.13 L488.50,200.06 L489.00,199.98 L489.50,199.91 L490.00,199.84 L490.50,199.77 L491.00,199.71 L491.50,199.65 L492.00,199.59 L492.50,199.54 L493.00,199.49 L493.50,199.45 L494.00,199.41 L494.50,199.38 L495.00,199.35 L495.50,199.33 L496.00,199.31 L496.50,199.29 L497.00,199.28 L497.50,199.27 L498.00,199.27 L498.50,199.26 L499.00,199.26 L499.50,199.27 L500.00,199.27 L500.50,199.27 L501.00,199.28 L501.50,199.29 L502.00,199.29 L502.50,199.30 L503.00,199.30 L503.50,199.31 L504.00,199.31 L504.50,199.31 L505.00,199.31 L505.50,199.31 L506.00,199.31 L506.50,199.31 L507.00,199.30 L507.50,199.30 L508.00,199.29 L508.50,199.29 L509.00,199.28 L509.50,199.27 L510.00,199.27 L510.50,199.26 L511.00,199.26 L511.50,199.26 L512.00,199.26 L512.50,199.26 L513.00,199.27 L513.50,199.27 L514.00,199.29 L514.50,199.30 L515.00,199.32 L515.50,199.34 L516.00,199.36 L516.50,199.39 L517.00,199.42 L517.50,199.46 L518.00,199.49 L518.50,199.54 L519.00,199.58 L519.50,199.63 L520.00,199.68 L520.50,199.74 L521.00,199.80 L521.50,199.85 L522.00,199.91 L522.50,199.98 L523.00,200.04 L523.50,200.10 L524.00,200.16 L524.50,200.22 L525.00,200.28 L525.50,200.34 L526.00,200.39 L526.50,200.44 L527.00,200.48 L527.50,200.52 L528.00,200.55 L528.50,200.58 L529.00,200.60 L529.50,200.61 L530.00,200.61 L530.50,200.61 L531.00,200.60 L531.50,200.57 L532.00,200.54 L532.50,200.50 L533.00,200.45 L533.50,200.39 L534.00,200.33 L534.50,200.26 L535.00,200.18 L535.50,200.11 L536.00,200.03 L536.50,199.94 L537.00,199.86 L537.50,199.78 L538.00,199.70 L538.50,199.63 L539.00,199.56 L539.50,199.49 L540.00,199.43 L540.50,199.38 L541.00,199.33 L541.50,199.28 L542.00,199.25 L542.50,199.22 L543.00,199.19 L543.50,199.17 L544.00,199.16 L544.50,199.14 L545.00,199.14 L545.50,199.13 L546.00,199.13 L546.50,199.13 L547.00,199.13 L547.50,199.13 L548.00,199.13 L548.50,199.12 L549.00,199.11 L549.50,199.10 L550.00,199.08 L550.50,199.05 L551.00,199.03 L551.50,199.02 L552.00,199.00 L552.50,199.00 L553.00,199.02 L553.50,199.04 L554.00,199.09 L554.50,199.15 L555.00,199.23 L555.50,199.34 L556.00,199.46 L556.50,199.61 L557.00,199.78 L557.50,199.96 L558.00,200.16 L558.50,200.37 L559.00,200.59 L559.50,200.82 L560.00,201.05 L560.50,201.27 L561.00,201.48 L561.50,201.69 L562.00,201.88 L562.50,202.05 L563.00,202.19 L563.50,202.31 L564.00,202.41 L564.50,202.47 L565.00,202.51 L565.50,202.52 L566.00,202.52 L566.50,202.48 L567.00,202.42 L567.50,202.34 L568.00,202.24 L568.50,202.11 L569.00,201.97 L569.50,201.80 L570.00,201.62 L570.50,201.42 L571.00,201.20 L571.50,200.97 L572.00,200.72 L572.50,200.47 L573.00,200.21 L573.50,199.93 L574.00,199.66 L574.50,199.38 L575.00,199.09 L575.50,198.81 L576.00,198.52 L576.50,198.24 L577.00,197.97 L577.50,197.69 L578.00,197.43 L578.50,197.17 L579.00,196.92 L579.50,196.68 L580.00,196.45 L580.50,196.24 L581.00,196.04 L581.50,195.85 L582.00,195.68 L582.50,195.53 L583.00,195.40 L583.50,195.28 L584.00,195.18 L584.50,195.10 L585.00,195.04 L585.50,195.00 L586.00,194.98 L586.50,194.98 L587.00,195.00 L587.50,195.04 L588.00,195.10 L588.50,195.18 L589.00,195.28 L589.50,195.41 L590.00,195.55 L590.50,195.72 L591.00,195.92 L591.50,196.13 L592.00,196.37 L592.50,196.63 L593.00,196.91 L593.50,197.21 L594.00,197.53 L594.50,197.87 L595.00,198.22 L595.50,198.60 L596.00,198.99 L596.50,199.39 L597.00,199.81 L597.50,200.24 L598.00,200.67 L598.50,201.12 L599.00,201.56 L599.50,202.01 L600.00,202.46 L600.50,202.90 L601.00,203.34 L601.50,203.77 L602.00,204.19 L602.50,204.60 L603.00,204.99 L603.50,205.36 L604.00,205.71 L604.50,206.03 L605.00,206.33 L605.50,206.60 L606.00,206.84 L606.50,207.04 L607.00,207.21 L607.50,207.34 L608.00,207.43 L608.50,207.48 L609.00,207.49 L609.50,207.46 L610.00,207.40 L610.50,207.29 L611.00,207.15 L611.50,206.97 L612.00,206.76 L612.50,206.50 L613.00,206.21 L613.50,205.89 L614.00,205.54 L614.50,205.15 L615.00,204.74 L615.50,204.30 L616.00,203.83 L616.50,203.34 L617.00,202.83 L617.50,202.31 L618.00,201.76 L618.50,201.21 L619.00,200.64 L619.50,200.07 L620.00,199.50 L620.50,198.92 L621.00,198.35 L621.50,197.78 L622.00,197.21 L622.50,196.66 L623.00,196.12 L623.50,195.60 L624.00,195.09 L624.50,194.61 L625.00,194.15 L625.50,193.71 L626.00,193.30 L626.50,192.92 L627.00,192.57 L627.50,192.25 L628.00,191.96 L628.50,191.71 L629.00,191.49 L629.50,191.31 L630.00,191.17 L630.50,191.06 L631.00,190.99 L631.50,190.96 L632.00,190.96 L632.50,191.00 L633.00,191.07 L633.50,191.18 L634.00,191.33 L634.50,191.51 L635.00,191.72 L635.50,191.97 L636.00,192.25 L636.50,192.55 L637.00,192.89 L637.50,193.25 L638.00,193.64 L638.50,194.06 L639.00,194.50 L639.50,194.96 L640.00,195.44 L640.50,195.94 L641.00,196.46 L641.50,196.99 L642.00,197.53 L642.50,198.09 L643.00,198.65 L643.50,199.22 L644.00,199.80 L644.50,200.37 L645.00,200.95 L645.50,201.52 L646.00,202.09 L646.50,202.65 L647.00,203.20 L647.50,203.74 L648.00,204.26 L648.50,204.77 L649.00,205.26 L649.50,205.72 L650.00,206.17 L650.50,206.59 L651.00,206.98 L651.50,207.34 L652.00,207.67 L652.50,207.96 L653.00,208.23 L653.50,208.45 L654.00,208.64 L654.50,208.78 L655.00,208.89 L655.50,208.95 L656.00,208.97 L656.50,208.95 L657.00,208.88 L657.50,208.77 L658.00,208.62 L658.50,208.42 L659.00,208.18 L659.50,207.90 L660.00,207.58 L660.50,207.22 L661.00,206.82 L661.50,206.39 L662.00,205.93 L662.50,205.44 L663.00,204.92 L663.50,204.37 L664.00,203.81 L664.50,203.23 L665.00,202.63 L665.50,202.02 L666.00,201.40 L666.50,200.78 L667.00,200.16 L667.50,199.54 L668.00,198.92 L668.50,198.31 L669.00,197.71 L669.50,197.12 L670.00,196.55 L670.50,196.00 L671.00,195.48 L671.50,194.97 L672.00,194.50 L672.50,194.05 L673.00,193.63 L673.50,193.24 L674.00,192.89 L674.50,192.57 L675.00,192.29 L675.50,192.04 L676.00,191.83 L676.50,191.65 L677.00,191.51 L677.50,191.41 L678.00,191.35 L678.50,191.32 L679.00,191.33 L679.50,191.37 L680.00,191.45 L680.50,191.56 L681.00,191.71 L681.50,191.89 L682.00,192.09 L682.50,192.33 L683.00,192.60 L683.50,192.89 L684.00,193.21 L684.50,193.56 L685.00,193.92 L685.50,194.31 L686.00,194.71 L686.50,195.13 L687.00,195.57 L687.50,196.02 L688.00,196.48 L688.50,196.95 L689.00,197.43 L689.50,197.92 L690.00,198.41 L690.50,198.90 L691.00,199.39 L691.50,199.88 L692.00,200.36 L692.50,200.85 L693.00,201.32 L693.50,201.78 L694.00,202.23 L694.50,202.67 L695.00,203.10 L695.50,203.50 L696.00,203.89 L696.50,204.26 L697.00,204.60 L697.50,204.93 L698.00,205.22 L698.50,205.49 L699.00,205.74 L699.50,205.95 L700.00,206.14 L700.50,206.29 L701.00,206.41 L701.50,206.50 L702.00,206.55 L702.50,206.57 L703.00,206.56 L703.50,206.51 L704.00,206.42 L704.50,206.30 L705.00,206.15 L705.50,205.96 L706.00,205.73 L706.50,205.48 L707.00,205.20 L707.50,204.88 L708.00,204.54 L708.50,204.18 L709.00,203.79 L709.50,203.39 L710.00,202.97 L710.50,202.53 L711.00,202.09 L711.50,201.63 L712.00,201.17 L712.50,200.71 L713.00,200.25 L713.50,199.79 L714.00,199.34 L714.50,198.89 L715.00,198.46 L715.50,198.04 L716.00,197.64 L716.50,197.25 L717.00,196.89 L717.50,196.54 L718.00,196.22 L718.50,195.93 L719.00,195.65 L719.50,195.41 L720.00,195.19 L720.50,195.01 L721.00,194.84 L721.50,194.71 L722.00,194.61 L722.50,194.53 L723.00,194.48 L723.50,194.46 L724.00,194.46 L724.50,194.49 L725.00,194.55 L725.50,194.62 L726.00,194.72 L726.50,194.84 L727.00,194.98 L727.50,195.14 L728.00,195.32 L728.50,195.51 L729.00,195.72 L729.50,195.94 L730.00,196.17 L730.50,196.42 L731.00,196.67 L731.50,196.94 L732.00,197.21 L732.50,197.49 L733.00,197.78 L733.50,198.07 L734.00,198.37 L734.50,198.67 L735.00,198.97 L735.50,199.27 L736.00,199.58 L736.50,199.87 L737.00,200.17 L737.50,200.46 L738.00,200.75 L738.50,201.02 L739.00,201.29 L739.50,201.55 L740.00,201.79 L740.50,202.02 L741.00,202.24 L741.50,202.44 L742.00,202.62 L742.50,202.78 L743.00,202.92 L743.50,203.04 L744.00,203.13 L744.50,203.20 L745.00,203.24 L745.50,203.25 L746.00,203.24 L746.50,203.19 L747.00,203.12 L747.50,203.01 L748.00,202.87 L748.50,202.70 L749.00,202.51 L749.50,202.28 L750.00,202.04 L750.50,201.77 L751.00,201.50 L751.50,201.20 L752.00,200.91 L752.50,200.61 L753.00,200.31 L753.50,200.02 L754.00,199.74 L754.50,199.48 L755.00,199.24 L755.50,199.02 L756.00,198.83 L756.50,198.67 L757.00,198.54 L757.50,198.44 L758.00,198.38 L758.50,198.35 L759.00,198.35 L759.50,198.39 L760.00,198.45 L760.50,198.53 L761.00,198.64 L761.50,198.76" stroke="#e01414" stroke-width="2.3"/>
<path d="M62.50,199.00 L63.00,199.00 L63.50,199.00 L64.00,199.00 L64.50,199.00 L65.00,199.00 L65.50,199.00 L66.00,199.00 L66.50,199.00 L67.00,199.00 L67.50,199.00 L68.00,199.00 L68.50,199.00 L69.00,198.99 L69.50,198.97 L70.00,198.94 L70.50,198.89 L71.00,198.83 L71.50,198.76 L72.00,198.67 L72.50,198.57 L73.00,198.45 L73.50,198.32 L74.00,198.18 L74.50,198.02 L75.00,197.86 L75.50,197.67 L76.00,197.48 L76.50,197.27 L77.00,197.05 L77.50,196.81 L78.00,196.56 L78.50,196.30 L79.00,196.03 L79.50,195.74 L80.00,195.44 L80.50,195.12 L81.00,194.80 L81.50,194.46 L82.00,194.10 L82.50,193.74 L83.00,193.36 L83.50,192.97 L84.00,192.57 L84.50,192.15 L85.00,191.73 L85.50,191.29 L86.00,190.83 L86.50,190.37 L87.00,189.89 L87.50,189.41 L88.00,188.91 L88.50,188.39 L89.00,187.87 L89.50,187.34 L90.00,186.79 L90.50,186.23 L91.00,185.66 L91.50,185.08 L92.00,184.49 L92.50,183.89 L93.00,183.27 L93.50,182.65 L94.00,182.02 L94.50,181.37 L95.00,180.72 L95.50,180.05 L96.00,179.37 L96.50,178.69 L97.00,177.99 L97.50,177.28 L98.00,176.57 L98.50,175.84 L99.00,175.11 L99.50,174.36 L100.00,173.61 L100.50,172.85 L101.00,172.08 L101.50,171.30 L102.00,170.51 L102.50,169.71 L103.00,168.91 L103.50,168.09 L104.00,167.27 L104.50,166.44 L105.00,165.60 L105.50,164.76 L106.00,163.91 L106.50,163.05 L107.00,162.18 L107.50,161.31 L108.00,160.43 L108.50,159.54 L109.00,158.64 L109.50,157.74 L110.00,156.84 L110.50,155.93 L111.00,155.01 L111.50,154.08 L112.00,153.15 L112.50,152.22 L113.00,151.28 L113.50,150.33 L114.00,149.38 L114.50,148.43 L115.00,147.47 L115.50,146.50 L116.00,145.54 L116.50,144.56 L117.00,143.59 L117.50,142.61 L118.00,141.63 L118.50,140.64 L119.00,139.65 L119.50,138.66 L120.00,137.66 L120.50,136.66 L121.00,135.66 L121.50,134.66 L122.00,133.66 L122.50,132.65 L123.00,131.64 L123.50,130.63 L124.00,129.62 L124.50,128.61 L125.00,127.60 L125.50,126.58 L126.00,125.57 L126.50,124.55 L127.00,123.54 L127.50,122.52 L128.00,121.50 L128.50,120.49 L129.00,119.47 L129.50,118.46 L130.00,117.45 L130.50,116.43 L131.00,115.42 L131.50,114.41 L132.00,113.41 L132.50,112.40 L133.00,111.39 L133.50,110.39 L134.00,109.39 L134.50,108.39 L135.00,107.40 L135.50,106.41 L136.00,105.42 L136.50,104.43 L137.00,103.45 L137.50,102.47 L138.00,101.49 L138.50,100.52 L139.00,99.55 L139.50,98.59 L140.00,97.63 L140.50,96.67 L141.00,95.72 L141.50,94.78 L142.00,93.84 L142.50,92.90 L143.00,91.97 L143.50,91.05 L144.00,90.13 L144.50,89.22 L145.00,88.31 L145.50,87.41 L146.00,86.52 L146.50,85.63 L147.00,84.75 L147.50,83.88 L148.00,83.01 L148.50,82.15 L149.00,81.30 L149.50,80.45 L150.00,79.61 L150.50,78.78 L151.00,77.96 L151.50,77.15 L152.00,76.34 L152.50,75.55 L153.00,74.76 L153.50,73.98 L154.00,73.21 L154.50,72.45 L155.00,71.69 L155.50,70.95 L156.00,70.21 L156.50,69.49 L157.00,68.77 L157.50,68.07 L158.00,67.37 L158.50,66.68 L159.00,66.01 L159.50,65.34 L160.00,64.69 L160.50,64.04 L161.00,63.41 L161.50,62.78 L162.00,62.17 L162.50,61.57 L163.00,60.97 L163.50,60.39 L164.00,59.82 L164.50,59.27 L165.00,58.72 L165.50,58.19 L166.00,57.66 L166.50,57.15 L167.00,56.65 L167.50,56.16 L168.00,55.69 L168.50,55.22 L169.00,54.77 L169.50,54.33 L170.00,53.90 L170.50,53.49 L171.00,53.08 L171.50,52.69 L172.00,52.32 L172.50,51.95 L173.00,51.60 L173.50,51.26 L174.00,50.93 L174.50,50.62 L175.00,50.32 L175.50,50.03 L176.00,49.76 L176.50,49.49 L177.00,49.25 L177.50,49.01 L178.00,48.79 L178.50,48.58 L179.00,48.38 L179.50,48.20 L180.00,48.03 L180.50,47.88 L181.00,47.73 L181.50,47.61 L182.00,47.49 L182.50,47.39 L183.00,47.30 L183.50,47.23 L184.00,47.17 L184.50,47.12 L185.00,47.08 L185.50,47.06 L186.00,47.06 L186.50,47.06 L187.00,47.08 L187.50,47.12 L188.00,47.17 L188.50,47.23 L189.00,47.30 L189.50,47.39 L190.00,47.49 L190.50,47.61 L191.00,47.73 L191.50,47.88 L192.00,48.03 L192.50,48.20 L193.00,48.38 L193.50,48.58 L194.00,48.79 L194.50,49.01 L195.00,49.25 L195.50,49.49 L196.00,49.76 L196.50,50.03 L197.00,50.32 L197.50,50.62 L198.00,50.93 L198.50,51.26 L199.00,51.60 L199.50,51.95 L200.00,52.32 L200.50,52.69 L201.00,53.08 L201.50,53.49 L202.00,53.90 L202.50,54.33 L203.00,54.77 L203.50,55.22 L204.00,55.69 L204.50,56.16 L205.00,56.65 L205.50,57.15 L206.00,57.66 L206.50,58.19 L207.00,58.72 L207.50,59.27 L208.00,59.82 L208.50,60.39 L209.00,60.97 L209.50,61.57 L210.00,62.17 L210.50,62.78 L211.00,63.41 L211.50,64.04 L212.00,64.69 L212.50,65.34 L213.00,66.01 L213.50,66.68 L214.00,67.37 L214.50,68.07 L215.00,68.77 L215.50,69.49 L216.00,70.21 L216.50,70.95 L217.00,71.69 L217.50,72.45 L218.00,73.21 L218.50,73.98 L219.00,74.76 L219.50,75.55 L220.00,76.34 L220.50,77.15 L221.00,77.96 L221.50,78.78 L222.00,79.61 L222.50,80.45 L223.00,81.30 L223.50,82.15 L224.00,83.01 L224.50,83.88 L225.00,84.75 L225.50,85.63 L226.00,86.52 L226.50,87.41 L227.00,88.31 L227.50,89.22 L228.00,90.13 L228.50,91.05 L229.00,91.97 L229.50,92.90 L230.00,93.84 L230.50,94.78 L231.00,95.72 L231.50,96.67 L232.00,97.63 L232.50,98.59 L233.00,99.55 L233.50,100.52 L234.00,101.49 L234.50,102.47 L235.00,103.45 L235.50,104.43 L236.00,105.42 L236.50,106.41 L237.00,107.40 L237.50,108.39 L238.00,109.39 L238.50,110.39 L239.00,111.39 L239.50,112.40 L240.00,113.41 L240.50,114.41 L241.00,115.42 L241.50,116.43 L242.00,117.45 L242.50,118.46 L243.00,119.47 L243.50,120.49 L244.00,121.50 L244.50,122.52 L245.00,123.54 L245.50,124.55 L246.00,125.57 L246.50,126.58 L247.00,127.60 L247.50,128.61 L248.00,129.62 L248.50,130.63 L249.00,131.64 L249.50,132.65 L250.00,133.66 L250.50,134.66 L251.00,135.66 L251.50,136.66 L252.00,137.66 L252.50,138.66 L253.00,139.65 L253.50,140.64 L254.00,141.63 L254.50,142.61 L255.00,143.59 L255.50,144.56 L256.00,145.54 L256.50,146.50 L257.00,147.47 L257.50,148.43 L258.00,149.38 L258.50,150.33 L259.00,151.28 L259.50,152.22 L260.00,153.15 L260.50,154.08 L261.00,155.01 L261.50,155.93 L262.00,156.84 L262.50,157.74 L263.00,158.64 L263.50,159.54 L264.00,160.43 L264.50,161.31 L265.00,162.18 L265.50,163.05 L266.00,163.91 L266.50,164.76 L267.00,165.60 L267.50,166.44 L268.00,167.27 L268.50,168.09 L269.00,168.91 L269.50,169.71 L270.00,170.51 L270.50,171.30 L271.00,172.08 L271.50,172.85 L272.00,173.61 L272.50,174.36 L273.00,175.11 L273.50,175.84 L274.00,176.57 L274.50,177.28 L275.00,177.99 L275.50,178.69 L276.00,179.37 L276.50,180.05 L277.00,180.72 L277.50,181.37 L278.00,182.02 L278.50,182.65 L279.00,183.27 L279.50,183.89 L280.00,184.49 L280.50,185.08 L281.00,185.66 L281.50,186.23 L282.00,186.79 L282.50,187.34 L283.00,187.87 L283.50,188.39 L284.00,188.91 L284.50,189.41 L285.00,189.89 L285.50,190.37 L286.00,190.83 L286.50,191.29 L287.00,191.73 L287.50,192.15 L288.00,192.57 L288.50,192.97 L289.00,193.36 L289.50,193.74 L290.00,194.10 L290.50,194.46 L291.00,194.80 L291.50,195.12 L292.00,195.44 L292.50,195.74 L293.00,196.03 L293.50,196.30 L294.00,196.56 L294.50,196.81 L295.00,197.05 L295.50,197.27 L296.00,197.48 L296.50,197.67 L297.00,197.86 L297.50,198.02 L298.00,198.18 L298.50,198.32 L299.00,198.45 L299.50,198.57 L300.00,198.67 L300.50,198.76 L301.00,198.83 L301.50,198.89 L302.00,198.94 L302.50,198.97 L303.00,198.99 L303.50,199.00 L304.00,199.00 L304.50,199.00 L305.00,199.00 L305.50,199.00 L306.00,199.00 L306.50,199.00 L307.00,199.00 L307.50,199.00 L308.00,199.00 L308.50,199.00 L309.00,199.00 L309.50,199.00 L310.00,199.00 L310.50,199.00 L311.00,199.00 L311.50,199.00 L312.00,199.00 L312.50,199.00 L313.00,199.00 L313.50,199.00 L314.00,199.00 L314.50,199.00 L315.00,199.00 L315.50,199.00 L316.00,199.00 L316.50,199.00 L317.00,199.00 L317.50,199.00 L318.00,199.00 L318.50,199.00 L319.00,199.00 L319.50,199.00 L320.00,199.00 L320.50,199.00 L321.00,199.00 L321.50,199.00 L322.00,199.00 L322.50,199.00 L323.00,199.00 L323.50,199.00 L324.00,199.00 L324.50,199.00 L325.00,199.00 L325.50,199.00 L326.00,199.00 L326.50,199.00 L327.00,199.00 L327.50,199.00 L328.00,199.00 L328.50,199.00 L329.00,199.00 L329.50,199.00 L330.00,199.00 L330.50,199.00 L331.00,199.00 L331.50,199.00 L332.00,199.00 L332.50,199.00 L333.00,199.00 L333.50,199.00 L334.00,199.00 L334.50,199.00 L335.00,199.00 L335.50,199.00 L336.00,199.00 L336.50,199.00 L337.00,199.00 L337.50,199.00 L338.00,199.00 L338.50,199.00 L339.00,199.00 L339.50,199.00 L340.00,199.00 L340.50,199.00 L341.00,199.00 L341.50,199.00 L342.00,199.00 L342.50,199.00 L343.00,199.00 L343.50,199.00 L344.00,199.00 L344.50,199.00 L345.00,199.00 L345.50,199.00 L346.00,199.00 L346.50,199.00 L347.00,199.00 L347.50,199.00 L348.00,199.00 L348.50,199.00 L349.00,199.00 L349.50,199.00 L350.00,199.00 L350.50,199.00 L351.00,199.00 L351.50,199.00 L352.00,199.00 L352.50,199.00 L353.00,199.00 L353.50,199.00 L354.00,199.00 L354.50,199.00 L355.00,199.00 L355.50,199.00 L356.00,199.00 L356.50,199.00 L357.00,199.00 L357.50,199.00 L358.00,199.00 L358.50,199.00 L359.00,199.00 L359.50,199.00 L360.00,199.00 L360.50,199.00 L361.00,199.00 L361.50,199.00 L362.00,199.00 L362.50,199.00 L363.00,199.00 L363.50,199.00 L364.00,199.00 L364.50,199.00 L365.00,199.00 L365.50,199.00 L366.00,199.00 L366.50,199.00 L367.00,199.00 L367.50,199.00 L368.00,199.00 L368.50,199.00 L369.00,199.00 L369.50,199.00 L370.00,199.00 L370.50,199.00 L371.00,199.00 L371.50,199.00 L372.00,199.00 L372.50,199.00 L373.00,199.00 L373.50,199.00 L374.00,199.00 L374.50,199.00 L375.00,199.00 L375.50,199.00 L376.00,199.00 L376.50,199.00 L377.00,199.00 L377.50,199.00 L378.00,199.00 L378.50,199.00 L379.00,199.00 L379.50,199.00 L380.00,199.00 L380.50,199.00 L381.00,199.00 L381.50,199.00 L382.00,199.00 L382.50,199.00 L383.00,199.00 L383.50,199.00 L384.00,199.00 L384.50,199.00 L385.00,199.00 L385.50,199.00 L386.00,199.00 L386.50,199.00 L387.00,199.00 L387.50,199.00 L388.00,199.00 L388.50,199.00 L389.00,199.00 L389.50,199.00 L390.00,199.00 L390.50,199.00 L391.00,199.00 L391.50,199.00 L392.00,199.00 L392.50,199.00 L393.00,199.00 L393.50,199.00 L394.00,199.00 L394.50,199.00 L395.00,199.00 L395.50,199.00 L396.00,199.00 L396.50,199.00 L397.00,199.00 L397.50,199.00 L398.00,199.00 L398.50,199.00 L399.00,199.00 L399.50,199.00 L400.00,199.00 L400.50,199.00 L401.00,199.00 L401.50,199.00 L402.00,199.00 L402.50,199.00 L403.00,199.00 L403.50,199.00 L404.00,199.00 L404.50,199.00 L405.00,199.00 L405.50,199.00 L406.00,199.00 L406.50,199.00 L407.00,199.00 L407.50,199.00 L408.00,199.00 L408.50,199.00 L409.00,199.00 L409.50,199.00 L410.00,199.00 L410.50,199.00 L411.00,199.00 L411.50,199.00 L412.00,199.00 L412.50,199.00 L413.00,199.00 L413.50,199.00 L414.00,199.00 L414.50,199.00 L415.00,199.00 L415.50,199.00 L416.00,199.00 L416.50,199.00 L417.00,199.00 L417.50,199.00 L418.00,199.00 L418.50,199.00 L419.00,199.00 L419.50,199.00 L420.00,199.00 L420.50,199.00 L421.00,199.00 L421.50,199.00 L422.00,199.00 L422.50,199.00 L423.00,199.00 L423.50,199.00 L424.00,199.00 L424.50,199.00 L425.00,199.00 L425.50,199.00 L426.00,199.00 L426.50,199.00 L427.00,199.00 L427.50,199.00 L428.00,199.00 L428.50,199.00 L429.00,199.00 L429.50,199.00 L430.00,199.00 L430.50,199.00 L431.00,199.00 L431.50,199.00 L432.00,199.00 L432.50,199.00 L433.00,199.00 L433.50,199.00 L434.00,199.00 L434.50,199.00 L435.00,199.00 L435.50,199.00 L436.00,199.00 L436.50,199.00 L437.00,199.00 L437.50,199.00 L438.00,199.00 L438.50,199.00 L439.00,199.00 L439.50,199.00 L440.00,199.00 L440.50,199.00 L441.00,199.00 L441.50,199.00 L442.00,199.00 L442.50,199.00 L443.00,199.00 L443.50,199.00 L444.00,199.00 L444.50,199.00 L445.00,199.00 L445.50,199.00 L446.00,199.00 L446.50,199.00 L447.00,199.00 L447.50,199.00 L448.00,199.00 L448.50,199.00 L449.00,199.00 L449.50,199.00 L450.00,199.00 L450.50,199.00 L451.00,199.00 L451.50,199.00 L452.00,199.00 L452.50,199.00 L453.00,199.00 L453.50,199.00 L454.00,199.00 L454.50,199.00 L455.00,199.00 L455.50,199.00 L456.00,199.00 L456.50,199.00 L457.00,199.00 L457.50,199.00 L458.00,199.00 L458.50,199.00 L459.00,199.00 L459.50,199.00 L460.00,199.00 L460.50,199.00 L461.00,199.00 L461.50,199.00 L462.00,199.00 L462.50,199.00 L463.00,199.00 L463.50,199.00 L464.00,199.00 L464.50,199.00 L465.00,199.00 L465.50,199.00 L466.00,199.00 L466.50,199.00 L467.00,199.00 L467.50,199.00 L468.00,199.00 L468.50,199.00 L469.00,199.00 L469.50,199.00 L470.00,199.00 L470.50,199.00 L471.00,199.00 L471.50,199.00 L472.00,199.00 L472.50,199.00 L473.00,199.00 L473.50,199.00 L474.00,199.00 L474.50,199.00 L475.00,199.00 L475.50,199.00 L476.00,199.00 L476.50,199.00 L477.00,199.00 L477.50,199.00 L478.00,199.00 L478.50,199.00 L479.00,199.00 L479.50,199.00 L480.00,199.00 L480.50,199.00 L481.00,199.00 L481.50,199.00 L482.00,199.00 L482.50,199.00 L483.00,199.00 L483.50,199.00 L484.00,199.00 L484.50,199.00 L485.00,199.00 L485.50,199.00 L486.00,199.00 L486.50,199.00 L487.00,199.00 L487.50,199.00 L488.00,199.00 L488.50,199.00 L489.00,199.00 L489.50,199.00 L490.00,199.00 L490.50,199.00 L491.00,199.00 L491.50,199.00 L492.00,199.00 L492.50,199.00 L493.00,199.00 L493.50,199.00 L494.00,199.00 L494.50,199.00 L495.00,199.00 L495.50,199.00 L496.00,199.00 L496.50,199.00 L497.00,199.00 L497.50,199.00 L498.00,199.00 L498.50,199.00 L499.00,199.00 L499.50,199.00 L500.00,199.00 L500.50,199.00 L501.00,199.00 L501.50,199.00 L502.00,199.00 L502.50,199.00 L503.00,199.00 L503.50,199.00 L504.00,199.00 L504.50,199.00 L505.00,199.00 L505.50,199.00 L506.00,199.00 L506.50,199.00 L507.00,199.00 L507.50,199.00 L508.00,199.00 L508.50,199.00 L509.00,199.00 L509.50,199.00 L510.00,199.00 L510.50,199.00 L511.00,199.00 L511.50,199.00 L512.00,199.00 L512.50,199.00 L513.00,199.00 L513.50,199.00 L514.00,199.00 L514.50,199.00 L515.00,199.00 L515.50,199.00 L516.00,199.00 L516.50,199.00 L517.00,199.00 L517.50,199.00 L518.00,199.00 L518.50,199.00 L519.00,199.00 L519.50,199.00 L520.00,199.00 L520.50,199.00 L521.00,199.00 L521.50,199.00 L522.00,199.00 L522.50,199.00 L523.00,199.00 L523.50,199.00 L524.00,199.00 L524.50,199.00 L525.00,199.00 L525.50,199.00 L526.00,199.00 L526.50,199.00 L527.00,199.00 L527.50,199.00 L528.00,199.00 L528.50,199.00 L529.00,199.00 L529.50,199.00 L530.00,199.00 L530.50,199.00 L531.00,199.00 L531.50,199.00 L532.00,199.00 L532.50,199.00 L533.00,199.00 L533.50,199.00 L534.00,199.00 L534.50,199.00 L535.00,199.00 L535.50,199.00 L536.00,199.00 L536.50,199.00 L537.00,199.00 L537.50,199.00 L538.00,199.00 L538.50,199.00 L539.00,199.00 L539.50,199.00 L540.00,199.00 L540.50,199.00 L541.00,199.00 L541.50,199.00 L542.00,199.00 L542.50,199.00 L543.00,199.00 L543.50,199.00 L544.00,199.00 L544.50,199.00 L545.00,199.00 L545.50,199.00 L546.00,199.00 L546.50,199.00 L547.00,199.00 L547.50,199.00 L548.00,199.00 L548.50,199.00 L549.00,199.00 L549.50,199.00 L550.00,199.00 L550.50,199.00 L551.00,199.00 L551.50,199.00 L552.00,199.00 L552.50,199.00 L553.00,199.00 L553.50,199.00 L554.00,199.00 L554.50,199.00 L555.00,199.00 L555.50,199.00 L556.00,199.00 L556.50,199.00 L557.00,199.00 L557.50,199.00 L558.00,199.00 L558.50,199.00 L559.00,199.00 L559.50,199.00 L560.00,199.00 L560.50,199.00 L561.00,199.00 L561.50,199.00 L562.00,199.00 L562.50,199.00 L563.00,199.00 L563.50,199.00 L564.00,199.00 L564.50,199.00 L565.00,199.00 L565.50,199.00 L566.00,199.00 L566.50,199.00 L567.00,199.00 L567.50,199.00 L568.00,199.00 L568.50,199.00 L569.00,199.00 L569.50,199.00 L570.00,199.00 L570.50,199.00 L571.00,199.00 L571.50,199.00 L572.00,199.00 L572.50,199.00 L573.00,199.00 L573.50,199.00 L574.00,199.00 L574.50,199.00 L575.00,199.00 L575.50,199.00 L576.00,199.00 L576.50,199.00 L577.00,199.00 L577.50,199.00 L578.00,199.00 L578.50,199.00 L579.00,199.00 L579.50,199.00 L580.00,199.00 L580.50,199.00 L581.00,199.00 L581.50,199.00 L582.00,199.00 L582.50,199.00 L583.00,199.00 L583.50,199.00 L584.00,199.00 L584.50,199.00 L585.00,199.00 L585.50,199.00 L586.00,199.00 L586.50,199.00 L587.00,199.00 L587.50,199.00 L588.00,199.00 L588.50,199.00 L589.00,199.00 L589.50,199.00 L590.00,199.00 L590.50,199.00 L591.00,199.00 L591.50,199.00 L592.00,199.00 L592.50,199.00 L593.00,199.00 L593.50,199.00 L594.00,199.00 L594.50,199.00 L595.00,199.00 L595.50,199.00 L596.00,199.00 L596.50,199.00 L597.00,199.00 L597.50,199.00 L598.00,199.00 L598.50,199.00 L599.00,199.00 L599.50,199.00 L600.00,199.00 L600.50,199.00 L601.00,199.00 L601.50,199.00 L602.00,199.00 L602.50,199.00 L603.00,199.00 L603.50,199.00 L604.00,199.00 L604.50,199.00 L605.00,199.00 L605.50,199.00 L606.00,199.00 L606.50,199.00 L607.00,199.00 L607.50,199.00 L608.00,199.00 L608.50,199.00 L609.00,199.00 L609.50,199.00 L610.00,199.00 L610.50,199.00 L611.00,199.00 L611.50,199.00 L612.00,199.00 L612.50,199.00 L613.00,199.00 L613.50,199.00 L614.00,199.00 L614.50,199.00 L615.00,199.00 L615.50,199.00 L616.00,199.00 L616.50,199.00 L617.00,199.00 L617.50,199.00 L618.00,199.00 L618.50,199.00 L619.00,199.00 L619.50,199.00 L620.00,199.00 L620.50,199.00 L621.00,199.00 L621.50,199.00 L622.00,199.00 L622.50,199.00 L623.00,199.00 L623.50,199.00 L624.00,199.00 L624.50,199.00 L625.00,199.00 L625.50,199.00 L626.00,199.00 L626.50,199.00 L627.00,199.00 L627.50,199.00 L628.00,199.00 L628.50,199.00 L629.00,199.00 L629.50,199.00 L630.00,199.00 L630.50,199.00 L631.00,199.00 L631.50,199.00 L632.00,199.00 L632.50,199.00 L633.00,199.00 L633.50,199.00 L634.00,199.00 L634.50,199.00 L635.00,199.00 L635.50,199.00 L636.00,199.00 L636.50,199.00 L637.00,199.00 L637.50,199.00 L638.00,199.00 L638.50,199.00 L639.00,199.00 L639.50,199.00 L640.00,199.00 L640.50,199.00 L641.00,199.00 L641.50,199.00 L642.00,199.00 L642.50,199.00 L643.00,199.00 L643.50,199.00 L644.00,199.00 L644.50,199.00 L645.00,199.00 L645.50,199.00 L646.00,199.00 L646.50,199.00 L647.00,199.00 L647.50,199.00 L648.00,199.00 L648.50,199.00 L649.00,199.00 L649.50,199.00 L650.00,199.00 L650.50,199.00 L651.00,199.00 L651.50,199.00 L652.00,199.00 L652.50,199.00 L653.00,199.00 L653.50,199.00 L654.00,199.00 L654.50,199.00 L655.00,199.00 L655.50,199.00 L656.00,199.00 L656.50,199.00 L657.00,199.00 L657.50,199.00 L658.00,199.00 L658.50,199.00 L659.00,199.00 L659.50,199.00 L660.00,199.00 L660.50,199.00 L661.00,199.00 L661.50,199.00 L662.00,199.00 L662.50,199.00 L663.00,199.00 L663.50,199.00 L664.00,199.00 L664.50,199.00 L665.00,199.00 L665.50,199.00 L666.00,199.00 L666.50,199.00 L667.00,199.00 L667.50,199.00 L668.00,199.00 L668.50,199.00 L669.00,199.00 L669.50,199.00 L670.00,199.00 L670.50,199.00 L671.00,199.00 L671.50,199.00 L672.00,199.00 L672.50,199.00 L673.00,199.00 L673.50,199.00 L674.00,199.00 L674.50,199.00 L675.00,199.00 L675.50,199.00 L676.00,199.00 L676.50,199.00 L677.00,199.00 L677.50,199.00 L678.00,199.00 L678.50,199.00 L679.00,199.00 L679.50,199.00 L680.00,199.00 L680.50,199.00 L681.00,199.00 L681.50,199.00 L682.00,199.00 L682.50,199.00 L683.00,199.00 L683.50,199.00 L684.00,199.00 L684.50,199.00 L685.00,199.00 L685.50,199.00 L686.00,199.00 L686.50,199.00 L687.00,199.00 L687.50,199.00 L688.00,199.00 L688.50,199.00 L689.00,199.00 L689.50,199.00 L690.00,199.00 L690.50,199.00 L691.00,199.00 L691.50,199.00 L692.00,199.00 L692.50,199.00 L693.00,199.00 L693.50,199.00 L694.00,199.00 L694.50,199.00 L695.00,199.00 L695.50,199.00 L696.00,199.00 L696.50,199.00 L697.00,199.00 L697.50,199.00 L698.00,199.00 L698.50,199.00 L699.00,199.00 L699.50,199.00 L700.00,199.00 L700.50,199.00 L701.00,199.00 L701.50,199.00 L702.00,199.00 L702.50,199.00 L703.00,199.00 L703.50,199.00 L704.00,199.00 L704.50,199.00 L705.00,199.00 L705.50,199.00 L706.00,199.00 L706.50,199.00 L707.00,199.00 L707.50,199.00 L708.00,199.00 L708.50,199.00 L709.00,199.00 L709.50,199.00 L710.00,199.00 L710.50,199.00 L711.00,199.00 L711.50,199.00 L712.00,199.00 L712.50,199.00 L713.00,199.00 L713.50,199.00 L714.00,199.00 L714.50,199.00 L715.00,199.00 L715.50,199.00 L716.00,199.00 L716.50,199.00 L717.00,199.00 L717.50,199.00 L718.00,199.00 L718.50,199.00 L719.00,199.00 L719.50,199.00 L720.00,199.00 L720.50,199.00 L721.00,199.00 L721.50,199.00 L722.00,199.00 L722.50,199.00 L723.00,199.00 L723.50,199.00 L724.00,199.00 L724.50,199.00 L725.00,199.00 L725.50,199.00 L726.00,199.00 L726.50,199.00 L727.00,199.00 L727.50,199.00 L728.00,199.00 L728.50,199.00 L729.00,199.00 L729.50,199.00 L730.00,199.00 L730.50,199.00 L731.00,199.00 L731.50,199.00 L732.00,199.00 L732.50,199.00 L733.00,199.00 L733.50,199.00 L734.00,199.00 L734.50,199.00 L735.00,199.00 L735.50,199.00 L736.00,199.00 L736.50,199.00 L737.00,199.00 L737.50,199.00 L738.00,199.00 L738.50,199.00 L739.00,199.00 L739.50,199.00 L740.00,199.00 L740.50,199.00 L741.00,199.00 L741.50,199.00 L742.00,199.00 L742.50,199.00 L743.00,199.00 L743.50,199.00 L744.00,199.00 L744.50,199.00 L745.00,199.00 L745.50,199.00 L746.00,199.00 L746.50,199.00 L747.00,199.00 L747.50,199.00 L748.00,199.00 L748.50,199.00 L749.00,199.00 L749.50,199.00 L750.00,199.00 L750.50,199.00 L751.00,199.00 L751.50,199.00 L752.00,199.00 L752.50,199.00 L753.00,199.00 L753.50,199.00 L754.00,199.00 L754.50,199.00 L755.00,199.00 L755.50,199.00 L756.00,199.00 L756.50,199.00 L757.00,199.00 L757.50,199.00 L758.00,199.00 L758.50,199.00 L759.00,199.00 L759.50,199.00 L760.00,199.00 L760.50,199.00 L761.00,199.00 L761.50,199.00" stroke="#000" stroke-width="2.4" stroke-dasharray="6.5 3"/>
<path d="M62.50,198.72 L63.00,198.79 L63.50,198.85 L64.00,198.90 L64.50,198.96 L65.00,199.01 L65.50,199.05 L66.00,199.09 L66.50,199.13 L67.00,199.17 L67.50,199.20 L68.00,199.23 L68.50,199.25 L69.00,199.27 L69.50,199.29 L70.00,199.30 L70.50,199.31 L71.00,199.31 L71.50,199.32 L72.00,199.32 L72.50,199.31 L73.00,199.31 L73.50,199.30 L74.00,199.28 L74.50,199.26 L75.00,199.24 L75.50,199.22 L76.00,199.19 L76.50,199.16 L77.00,199.13 L77.50,199.10 L78.00,199.06 L78.50,199.02 L79.00,198.97 L79.50,198.92 L80.00,198.87 L80.50,198.82 L81.00,198.76 L81.50,198.70 L82.00,198.64 L82.50,198.58 L83.00,198.51 L83.50,198.44 L84.00,198.37 L84.50,198.29 L85.00,198.22 L85.50,198.14 L86.00,198.05 L86.50,197.97 L87.00,197.88 L87.50,197.79 L88.00,197.70 L88.50,197.60 L89.00,197.51 L89.50,197.41 L90.00,197.30 L90.50,197.20 L91.00,197.09 L91.50,196.98 L92.00,196.87 L92.50,196.76 L93.00,196.65 L93.50,196.53 L94.00,196.41 L94.50,196.29 L95.00,196.17 L95.50,196.04 L96.00,195.91 L96.50,195.78 L97.00,195.65 L97.50,195.52 L98.00,195.39 L98.50,195.25 L99.00,195.11 L99.50,194.97 L100.00,194.83 L100.50,194.69 L101.00,194.54 L101.50,194.40 L102.00,194.25 L102.50,194.10 L103.00,193.95 L103.50,193.80 L104.00,193.64 L104.50,193.49 L105.00,193.33 L105.50,193.18 L106.00,193.02 L106.50,192.86 L107.00,192.69 L107.50,192.53 L108.00,192.37 L108.50,192.20 L109.00,192.04 L109.50,191.87 L110.00,191.70 L110.50,191.53 L111.00,191.36 L111.50,191.19 L112.00,191.01 L112.50,190.84 L113.00,190.67 L113.50,190.49 L114.00,190.32 L114.50,190.14 L115.00,189.96 L115.50,189.78 L116.00,189.60 L116.50,189.42 L117.00,189.24 L117.50,189.06 L118.00,188.88 L118.50,188.70 L119.00,188.52 L119.50,188.33 L120.00,188.15 L120.50,187.96 L121.00,187.78 L121.50,187.59 L122.00,187.41 L122.50,187.22 L123.00,187.04 L123.50,186.85 L124.00,186.66 L124.50,186.48 L125.00,186.29 L125.50,186.10 L126.00,185.92 L126.50,185.73 L127.00,185.54 L127.50,185.35 L128.00,185.17 L128.50,184.98 L129.00,184.79 L129.50,184.60 L130.00,184.42 L130.50,184.23 L131.00,184.04 L131.50,183.85 L132.00,183.67 L132.50,183.48 L133.00,183.29 L133.50,183.11 L134.00,182.92 L134.50,182.73 L135.00,182.55 L135.50,182.36 L136.00,182.18 L136.50,181.99 L137.00,181.81 L137.50,181.63 L138.00,181.44 L138.50,181.26 L139.00,181.08 L139.50,180.89 L140.00,180.71 L140.50,180.53 L141.00,180.35 L141.50,180.17 L142.00,179.99 L142.50,179.82 L143.00,179.64 L143.50,179.46 L144.00,179.28 L144.50,179.11 L145.00,178.93 L145.50,178.76 L146.00,178.59 L146.50,178.42 L147.00,178.24 L147.50,178.07 L148.00,177.90 L148.50,177.74 L149.00,177.57 L149.50,177.40 L150.00,177.24 L150.50,177.07 L151.00,176.91 L151.50,176.75 L152.00,176.59 L152.50,176.43 L153.00,176.27 L153.50,176.11 L154.00,175.95 L154.50,175.80 L155.00,175.65 L155.50,175.49 L156.00,175.34 L156.50,175.19 L157.00,175.04 L157.50,174.90 L158.00,174.75 L158.50,174.61 L159.00,174.47 L159.50,174.32 L160.00,174.18 L160.50,174.05 L161.00,173.91 L161.50,173.78 L162.00,173.64 L162.50,173.51 L163.00,173.38 L163.50,173.25 L164.00,173.13 L164.50,173.00 L165.00,172.88 L165.50,172.76 L166.00,172.64 L166.50,172.52 L167.00,172.40 L167.50,172.29 L168.00,172.18 L168.50,172.07 L169.00,171.96 L169.50,171.86 L170.00,171.75 L170.50,171.65 L171.00,171.55 L171.50,171.45 L172.00,171.36 L172.50,171.26 L173.00,171.17 L173.50,171.08 L174.00,171.00 L174.50,170.91 L175.00,170.83 L175.50,170.75 L176.00,170.67 L176.50,170.60 L177.00,170.52 L177.50,170.45 L178.00,170.38 L178.50,170.32 L179.00,170.25 L179.50,170.19 L180.00,170.14 L180.50,170.08 L181.00,170.03 L181.50,169.98 L182.00,169.93 L182.50,169.88 L183.00,169.84 L183.50,169.80 L184.00,169.76 L184.50,169.73 L185.00,169.69 L185.50,169.67 L186.00,169.64 L186.50,169.62 L187.00,169.59 L187.50,169.58 L188.00,169.56 L188.50,169.55 L189.00,169.54 L189.50,169.53 L190.00,169.53 L190.50,169.53 L191.00,169.53 L191.50,169.54 L192.00,169.55 L192.50,169.56 L193.00,169.58 L193.50,169.60 L194.00,169.62 L194.50,169.64 L195.00,169.67 L195.50,169.70 L196.00,169.74 L196.50,169.78 L197.00,169.82 L197.50,169.86 L198.00,169.91 L198.50,169.96 L199.00,170.02 L199.50,170.07 L200.00,170.13 L200.50,170.20 L201.00,170.27 L201.50,170.34 L202.00,170.41 L202.50,170.48 L203.00,170.56 L203.50,170.64 L204.00,170.73 L204.50,170.82 L205.00,170.91 L205.50,171.00 L206.00,171.09 L206.50,171.19 L207.00,171.29 L207.50,171.39 L208.00,171.50 L208.50,171.61 L209.00,171.72 L209.50,171.83 L210.00,171.95 L210.50,172.06 L211.00,172.18 L211.50,172.30 L212.00,172.43 L212.50,172.55 L213.00,172.68 L213.50,172.81 L214.00,172.95 L214.50,173.08 L215.00,173.22 L215.50,173.36 L216.00,173.50 L216.50,173.64 L217.00,173.78 L217.50,173.93 L218.00,174.08 L218.50,174.22 L219.00,174.38 L219.50,174.53 L220.00,174.68 L220.50,174.84 L221.00,174.99 L221.50,175.15 L222.00,175.31 L222.50,175.47 L223.00,175.64 L223.50,175.80 L224.00,175.97 L224.50,176.13 L225.00,176.30 L225.50,176.47 L226.00,176.64 L226.50,176.81 L227.00,176.98 L227.50,177.16 L228.00,177.33 L228.50,177.51 L229.00,177.68 L229.50,177.86 L230.00,178.04 L230.50,178.22 L231.00,178.40 L231.50,178.58 L232.00,178.76 L232.50,178.94 L233.00,179.12 L233.50,179.30 L234.00,179.49 L234.50,179.67 L235.00,179.85 L235.50,180.04 L236.00,180.22 L236.50,180.41 L237.00,180.59 L237.50,180.78 L238.00,180.97 L238.50,181.15 L239.00,181.34 L239.50,181.52 L240.00,181.71 L240.50,181.90 L241.00,182.08 L241.50,182.27 L242.00,182.46 L242.50,182.64 L243.00,182.83 L243.50,183.01 L244.00,183.20 L244.50,183.38 L245.00,183.57 L245.50,183.75 L246.00,183.94 L246.50,184.12 L247.00,184.31 L247.50,184.49 L248.00,184.67 L248.50,184.85 L249.00,185.03 L249.50,185.21 L250.00,185.39 L250.50,185.57 L251.00,185.75 L251.50,185.93 L252.00,186.10 L252.50,186.28 L253.00,186.45 L253.50,186.63 L254.00,186.80 L254.50,186.97 L255.00,187.14 L255.50,187.31 L256.00,187.48 L256.50,187.65 L257.00,187.81 L257.50,187.98 L258.00,188.14 L258.50,188.30 L259.00,188.46 L259.50,188.62 L260.00,188.78 L260.50,188.94 L261.00,189.09 L261.50,189.24 L262.00,189.40 L262.50,189.55 L263.00,189.69 L263.50,189.84 L264.00,189.98 L264.50,190.13 L265.00,190.27 L265.50,190.41 L266.00,190.54 L266.50,190.68 L267.00,190.81 L267.50,190.94 L268.00,191.07 L268.50,191.20 L269.00,191.32 L269.50,191.45 L270.00,191.57 L270.50,191.69 L271.00,191.80 L271.50,191.91 L272.00,192.03 L272.50,192.13 L273.00,192.24 L273.50,192.34 L274.00,192.45 L274.50,192.54 L275.00,192.64 L275.50,192.73 L276.00,192.82 L276.50,192.91 L277.00,193.00 L277.50,193.08 L278.00,193.16 L278.50,193.24 L279.00,193.31 L279.50,193.38 L280.00,193.45 L280.50,193.52 L281.00,193.58 L281.50,193.64 L282.00,193.70 L282.50,193.76 L283.00,193.81 L283.50,193.87 L284.00,193.92 L284.50,193.96 L285.00,194.01 L285.50,194.05 L286.00,194.09 L286.50,194.13 L287.00,194.16 L287.50,194.20 L288.00,194.23 L288.50,194.26 L289.00,194.28 L289.50,194.31 L290.00,194.33 L290.50,194.35 L291.00,194.37 L291.50,194.39 L292.00,194.41 L292.50,194.42 L293.00,194.43 L293.50,194.44 L294.00,194.45 L294.50,194.45 L295.00,194.46 L295.50,194.46 L296.00,194.46 L296.50,194.46 L297.00,194.46 L297.50,194.46 L298.00,194.45 L298.50,194.44 L299.00,194.44 L299.50,194.43 L300.00,194.42 L300.50,194.40 L301.00,194.39 L301.50,194.37 L302.00,194.36 L302.50,194.34 L303.00,194.32 L303.50,194.30 L304.00,194.28 L304.50,194.26 L305.00,194.23 L305.50,194.21 L306.00,194.18 L306.50,194.15 L307.00,194.13 L307.50,194.10 L308.00,194.07 L308.50,194.04 L309.00,194.00 L309.50,193.97 L310.00,193.94 L310.50,193.90 L311.00,193.87 L311.50,193.83 L312.00,193.79 L312.50,193.76 L313.00,193.72 L313.50,193.68 L314.00,193.64 L314.50,193.60 L315.00,193.56 L315.50,193.52 L316.00,193.48 L316.50,193.43 L317.00,193.39 L317.50,193.35 L318.00,193.30 L318.50,193.26 L319.00,193.21 L319.50,193.17 L320.00,193.12 L320.50,193.08 L321.00,193.03 L321.50,192.98 L322.00,192.93 L322.50,192.89 L323.00,192.84 L323.50,192.79 L324.00,192.74 L324.50,192.69 L325.00,192.64 L325.50,192.59 L326.00,192.54 L326.50,192.49 L327.00,192.44 L327.50,192.39 L328.00,192.34 L328.50,192.28 L329.00,192.23 L329.50,192.18 L330.00,192.13 L330.50,192.08 L331.00,192.02 L331.50,191.97 L332.00,191.92 L332.50,191.86 L333.00,191.81 L333.50,191.76 L334.00,191.70 L334.50,191.65 L335.00,191.60 L335.50,191.54 L336.00,191.49 L336.50,191.44 L337.00,191.38 L337.50,191.33 L338.00,191.28 L338.50,191.22 L339.00,191.17 L339.50,191.12 L340.00,191.06 L340.50,191.01 L341.00,190.96 L341.50,190.91 L342.00,190.85 L342.50,190.80 L343.00,190.75 L343.50,190.70 L344.00,190.65 L344.50,190.59 L345.00,190.54 L345.50,190.49 L346.00,190.44 L346.50,190.39 L347.00,190.34 L347.50,190.29 L348.00,190.24 L348.50,190.19 L349.00,190.14 L349.50,190.09 L350.00,190.04 L350.50,190.00 L351.00,189.95 L351.50,189.90 L352.00,189.86 L352.50,189.81 L353.00,189.76 L353.50,189.72 L354.00,189.67 L354.50,189.63 L355.00,189.58 L355.50,189.54 L356.00,189.50 L356.50,189.46 L357.00,189.41 L357.50,189.37 L358.00,189.33 L358.50,189.29 L359.00,189.25 L359.50,189.22 L360.00,189.18 L360.50,189.14 L361.00,189.10 L361.50,189.07 L362.00,189.03 L362.50,189.00 L363.00,188.96 L363.50,188.93 L364.00,188.90 L364.50,188.87 L365.00,188.84 L365.50,188.81 L366.00,188.78 L366.50,188.75 L367.00,188.72 L367.50,188.70 L368.00,188.67 L368.50,188.64 L369.00,188.62 L369.50,188.60 L370.00,188.57 L370.50,188.55 L371.00,188.53 L371.50,188.51 L372.00,188.49 L372.50,188.47 L373.00,188.45 L373.50,188.44 L374.00,188.42 L374.50,188.41 L375.00,188.39 L375.50,188.38 L376.00,188.36 L376.50,188.35 L377.00,188.34 L377.50,188.33 L378.00,188.32 L378.50,188.31 L379.00,188.30 L379.50,188.30 L380.00,188.29 L380.50,188.29 L381.00,188.28 L381.50,188.28 L382.00,188.27 L382.50,188.27 L383.00,188.27 L383.50,188.27 L384.00,188.27 L384.50,188.27 L385.00,188.28 L385.50,188.28 L386.00,188.28 L386.50,188.29 L387.00,188.29 L387.50,188.30 L388.00,188.31 L388.50,188.32 L389.00,188.32 L389.50,188.33 L390.00,188.35 L390.50,188.36 L391.00,188.37 L391.50,188.38 L392.00,188.40 L392.50,188.41 L393.00,188.43 L393.50,188.45 L394.00,188.46 L394.50,188.48 L395.00,188.50 L395.50,188.52 L396.00,188.54 L396.50,188.57 L397.00,188.59 L397.50,188.61 L398.00,188.64 L398.50,188.66 L399.00,188.69 L399.50,188.72 L400.00,188.75 L400.50,188.78 L401.00,188.81 L401.50,188.84 L402.00,188.87 L402.50,188.90 L403.00,188.94 L403.50,188.97 L404.00,189.01 L404.50,189.04 L405.00,189.08 L405.50,189.12 L406.00,189.16 L406.50,189.20 L407.00,189.24 L407.50,189.28 L408.00,189.33 L408.50,189.37 L409.00,189.42 L409.50,189.46 L410.00,189.51 L410.50,189.56 L411.00,189.60 L411.50,189.65 L412.00,189.70 L412.50,189.75 L413.00,189.81 L413.50,189.86 L414.00,189.91 L414.50,189.97 L415.00,190.02 L415.50,190.08 L416.00,190.13 L416.50,190.19 L417.00,190.25 L417.50,190.30 L418.00,190.36 L418.50,190.42 L419.00,190.48 L419.50,190.54 L420.00,190.60 L420.50,190.66 L421.00,190.72 L421.50,190.79 L422.00,190.85 L422.50,190.91 L423.00,190.98 L423.50,191.04 L424.00,191.11 L424.50,191.17 L425.00,191.24 L425.50,191.30 L426.00,191.37 L426.50,191.43 L427.00,191.50 L427.50,191.57 L428.00,191.63 L428.50,191.70 L429.00,191.77 L429.50,191.84 L430.00,191.91 L430.50,191.97 L431.00,192.04 L431.50,192.11 L432.00,192.18 L432.50,192.25 L433.00,192.32 L433.50,192.39 L434.00,192.46 L434.50,192.53 L435.00,192.60 L435.50,192.67 L436.00,192.74 L436.50,192.81 L437.00,192.88 L437.50,192.95 L438.00,193.01 L438.50,193.08 L439.00,193.15 L439.50,193.22 L440.00,193.29 L440.50,193.36 L441.00,193.43 L441.50,193.50 L442.00,193.57 L442.50,193.64 L443.00,193.70 L443.50,193.77 L444.00,193.84 L444.50,193.91 L445.00,193.97 L445.50,194.04 L446.00,194.11 L446.50,194.17 L447.00,194.24 L447.50,194.31 L448.00,194.37 L448.50,194.44 L449.00,194.50 L449.50,194.57 L450.00,194.63 L450.50,194.69 L451.00,194.75 L451.50,194.82 L452.00,194.88 L452.50,194.94 L453.00,195.00 L453.50,195.06 L454.00,195.12 L454.50,195.18 L455.00,195.24 L455.50,195.30 L456.00,195.35 L456.50,195.41 L457.00,195.47 L457.50,195.52 L458.00,195.57 L458.50,195.63 L459.00,195.68 L459.50,195.73 L460.00,195.79 L460.50,195.84 L461.00,195.89 L461.50,195.94 L462.00,195.98 L462.50,196.03 L463.00,196.08 L463.50,196.13 L464.00,196.17 L464.50,196.22 L465.00,196.26 L465.50,196.30 L466.00,196.35 L466.50,196.39 L467.00,196.43 L467.50,196.47 L468.00,196.51 L468.50,196.55 L469.00,196.59 L469.50,196.63 L470.00,196.66 L470.50,196.70 L471.00,196.74 L471.50,196.77 L472.00,196.81 L472.50,196.84 L473.00,196.87 L473.50,196.91 L474.00,196.94 L474.50,196.97 L475.00,197.00 L475.50,197.03 L476.00,197.06 L476.50,197.09 L477.00,197.12 L477.50,197.15 L478.00,197.18 L478.50,197.20 L479.00,197.23 L479.50,197.26 L480.00,197.28 L480.50,197.31 L481.00,197.33 L481.50,197.35 L482.00,197.38 L482.50,197.40 L483.00,197.42 L483.50,197.44 L484.00,197.46 L484.50,197.49 L485.00,197.51 L485.50,197.53 L486.00,197.54 L486.50,197.56 L487.00,197.58 L487.50,197.60 L488.00,197.62 L488.50,197.63 L489.00,197.65 L489.50,197.67 L490.00,197.68 L490.50,197.70 L491.00,197.71 L491.50,197.72 L492.00,197.74 L492.50,197.75 L493.00,197.76 L493.50,197.78 L494.00,197.79 L494.50,197.80 L495.00,197.81 L495.50,197.82 L496.00,197.83 L496.50,197.84 L497.00,197.85 L497.50,197.86 L498.00,197.87 L498.50,197.88 L499.00,197.89 L499.50,197.90 L500.00,197.91 L500.50,197.91 L501.00,197.92 L501.50,197.93 L502.00,197.93 L502.50,197.94 L503.00,197.95 L503.50,197.95 L504.00,197.96 L504.50,197.96 L505.00,197.97 L505.50,197.97 L506.00,197.98 L506.50,197.98 L507.00,197.98 L507.50,197.99 L508.00,197.99 L508.50,197.99 L509.00,198.00 L509.50,198.00 L510.00,198.00 L510.50,198.00 L511.00,198.00 L511.50,198.01 L512.00,198.01 L512.50,198.01 L513.00,198.01 L513.50,198.01 L514.00,198.01 L514.50,198.01 L515.00,198.01 L515.50,198.01 L516.00,198.01 L516.50,198.01 L517.00,198.01 L517.50,198.01 L518.00,198.01 L518.50,198.01 L519.00,198.01 L519.50,198.00 L520.00,198.00 L520.50,198.00 L521.00,198.00 L521.50,198.00 L522.00,197.99 L522.50,197.99 L523.00,197.98 L523.50,197.98 L524.00,197.98 L524.50,197.97 L525.00,197.96 L525.50,197.96 L526.00,197.95 L526.50,197.95 L527.00,197.94 L527.50,197.93 L528.00,197.92 L528.50,197.91 L529.00,197.90 L529.50,197.89 L530.00,197.88 L530.50,197.87 L531.00,197.86 L531.50,197.84 L532.00,197.83 L532.50,197.81 L533.00,197.80 L533.50,197.78 L534.00,197.77 L534.50,197.75 L535.00,197.73 L535.50,197.71 L536.00,197.69 L536.50,197.67 L537.00,197.65 L537.50,197.63 L538.00,197.60 L538.50,197.58 L539.00,197.56 L539.50,197.53 L540.00,197.50 L540.50,197.47 L541.00,197.45 L541.50,197.42 L542.00,197.38 L542.50,197.35 L543.00,197.32 L543.50,197.28 L544.00,197.25 L544.50,197.21 L545.00,197.18 L545.50,197.14 L546.00,197.10 L546.50,197.06 L547.00,197.02 L547.50,196.98 L548.00,196.94 L548.50,196.89 L549.00,196.85 L549.50,196.81 L550.00,196.76 L550.50,196.71 L551.00,196.67 L551.50,196.62 L552.00,196.57 L552.50,196.52 L553.00,196.47 L553.50,196.42 L554.00,196.37 L554.50,196.32 L555.00,196.27 L555.50,196.22 L556.00,196.16 L556.50,196.11 L557.00,196.06 L557.50,196.00 L558.00,195.95 L558.50,195.89 L559.00,195.83 L559.50,195.78 L560.00,195.72 L560.50,195.66 L561.00,195.61 L561.50,195.55 L562.00,195.49 L562.50,195.43 L563.00,195.37 L563.50,195.31 L564.00,195.25 L564.50,195.19 L565.00,195.13 L565.50,195.07 L566.00,195.01 L566.50,194.95 L567.00,194.89 L567.50,194.83 L568.00,194.77 L568.50,194.71 L569.00,194.65 L569.50,194.58 L570.00,194.52 L570.50,194.46 L571.00,194.40 L571.50,194.34 L572.00,194.28 L572.50,194.22 L573.00,194.15 L573.50,194.09 L574.00,194.03 L574.50,193.97 L575.00,193.91 L575.50,193.85 L576.00,193.79 L576.50,193.73 L577.00,193.67 L577.50,193.61 L578.00,193.55 L578.50,193.49 L579.00,193.43 L579.50,193.37 L580.00,193.31 L580.50,193.25 L581.00,193.20 L581.50,193.14 L582.00,193.08 L582.50,193.03 L583.00,192.97 L583.50,192.91 L584.00,192.86 L584.50,192.80 L585.00,192.75 L585.50,192.70 L586.00,192.65 L586.50,192.59 L587.00,192.54 L587.50,192.49 L588.00,192.44 L588.50,192.39 L589.00,192.34 L589.50,192.30 L590.00,192.25 L590.50,192.20 L591.00,192.16 L591.50,192.11 L592.00,192.07 L592.50,192.02 L593.00,191.98 L593.50,191.94 L594.00,191.90 L594.50,191.86 L595.00,191.82 L595.50,191.78 L596.00,191.74 L596.50,191.70 L597.00,191.66 L597.50,191.62 L598.00,191.59 L598.50,191.55 L599.00,191.52 L599.50,191.48 L600.00,191.45 L600.50,191.41 L601.00,191.38 L601.50,191.35 L602.00,191.32 L602.50,191.28 L603.00,191.25 L603.50,191.22 L604.00,191.19 L604.50,191.16 L605.00,191.13 L605.50,191.10 L606.00,191.07 L606.50,191.04 L607.00,191.01 L607.50,190.98 L608.00,190.96 L608.50,190.93 L609.00,190.90 L609.50,190.87 L610.00,190.85 L610.50,190.82 L611.00,190.79 L611.50,190.77 L612.00,190.74 L612.50,190.71 L613.00,190.69 L613.50,190.66 L614.00,190.64 L614.50,190.61 L615.00,190.59 L615.50,190.56 L616.00,190.54 L616.50,190.51 L617.00,190.49 L617.50,190.47 L618.00,190.44 L618.50,190.42 L619.00,190.40 L619.50,190.37 L620.00,190.35 L620.50,190.33 L621.00,190.31 L621.50,190.28 L622.00,190.26 L622.50,190.24 L623.00,190.22 L623.50,190.20 L624.00,190.18 L624.50,190.16 L625.00,190.14 L625.50,190.12 L626.00,190.10 L626.50,190.08 L627.00,190.06 L627.50,190.04 L628.00,190.03 L628.50,190.01 L629.00,189.99 L629.50,189.97 L630.00,189.96 L630.50,189.94 L631.00,189.92 L631.50,189.91 L632.00,189.89 L632.50,189.88 L633.00,189.86 L633.50,189.85 L634.00,189.83 L634.50,189.82 L635.00,189.81 L635.50,189.79 L636.00,189.78 L636.50,189.77 L637.00,189.76 L637.50,189.74 L638.00,189.73 L638.50,189.72 L639.00,189.71 L639.50,189.70 L640.00,189.69 L640.50,189.68 L641.00,189.67 L641.50,189.66 L642.00,189.66 L642.50,189.65 L643.00,189.64 L643.50,189.63 L644.00,189.63 L644.50,189.62 L645.00,189.62 L645.50,189.61 L646.00,189.61 L646.50,189.60 L647.00,189.60 L647.50,189.59 L648.00,189.59 L648.50,189.59 L649.00,189.58 L649.50,189.58 L650.00,189.58 L650.50,189.58 L651.00,189.58 L651.50,189.58 L652.00,189.58 L652.50,189.58 L653.00,189.58 L653.50,189.58 L654.00,189.59 L654.50,189.59 L655.00,189.59 L655.50,189.60 L656.00,189.60 L656.50,189.60 L657.00,189.61 L657.50,189.62 L658.00,189.62 L658.50,189.63 L659.00,189.64 L659.50,189.64 L660.00,189.65 L660.50,189.66 L661.00,189.67 L661.50,189.68 L662.00,189.69 L662.50,189.70 L663.00,189.71 L663.50,189.72 L664.00,189.74 L664.50,189.75 L665.00,189.76 L665.50,189.78 L666.00,189.79 L666.50,189.80 L667.00,189.82 L667.50,189.84 L668.00,189.85 L668.50,189.87 L669.00,189.89 L669.50,189.90 L670.00,189.92 L670.50,189.94 L671.00,189.96 L671.50,189.98 L672.00,190.00 L672.50,190.02 L673.00,190.04 L673.50,190.06 L674.00,190.09 L674.50,190.11 L675.00,190.13 L675.50,190.16 L676.00,190.18 L676.50,190.20 L677.00,190.23 L677.50,190.25 L678.00,190.28 L678.50,190.30 L679.00,190.33 L679.50,190.36 L680.00,190.38 L680.50,190.41 L681.00,190.44 L681.50,190.47 L682.00,190.50 L682.50,190.53 L683.00,190.56 L683.50,190.59 L684.00,190.62 L684.50,190.65 L685.00,190.68 L685.50,190.71 L686.00,190.74 L686.50,190.77 L687.00,190.80 L687.50,190.84 L688.00,190.87 L688.50,190.90 L689.00,190.94 L689.50,190.97 L690.00,191.00 L690.50,191.04 L691.00,191.07 L691.50,191.11 L692.00,191.14 L692.50,191.18 L693.00,191.22 L693.50,191.25 L694.00,191.29 L694.50,191.33 L695.00,191.36 L695.50,191.40 L696.00,191.44 L696.50,191.48 L697.00,191.52 L697.50,191.55 L698.00,191.59 L698.50,191.63 L699.00,191.67 L699.50,191.71 L700.00,191.75 L700.50,191.79 L701.00,191.83 L701.50,191.87 L702.00,191.91 L702.50,191.95 L703.00,192.00 L703.50,192.04 L704.00,192.08 L704.50,192.12 L705.00,192.16 L705.50,192.21 L706.00,192.25 L706.50,192.29 L707.00,192.33 L707.50,192.38 L708.00,192.42 L708.50,192.46 L709.00,192.51 L709.50,192.55 L710.00,192.59 L710.50,192.64 L711.00,192.68 L711.50,192.73 L712.00,192.77 L712.50,192.82 L713.00,192.86 L713.50,192.91 L714.00,192.95 L714.50,193.00 L715.00,193.04 L715.50,193.09 L716.00,193.13 L716.50,193.18 L717.00,193.22 L717.50,193.27 L718.00,193.32 L718.50,193.36 L719.00,193.41 L719.50,193.46 L720.00,193.50 L720.50,193.55 L721.00,193.60 L721.50,193.64 L722.00,193.69 L722.50,193.74 L723.00,193.78 L723.50,193.83 L724.00,193.88 L724.50,193.92 L725.00,193.97 L725.50,194.02 L726.00,194.07 L726.50,194.11 L727.00,194.16 L727.50,194.21 L728.00,194.25 L728.50,194.30 L729.00,194.35 L729.50,194.40 L730.00,194.44 L730.50,194.49 L731.00,194.54 L731.50,194.59 L732.00,194.63 L732.50,194.68 L733.00,194.73 L733.50,194.78 L734.00,194.82 L734.50,194.87 L735.00,194.92 L735.50,194.97 L736.00,195.01 L736.50,195.06 L737.00,195.11 L737.50,195.15 L738.00,195.20 L738.50,195.25 L739.00,195.29 L739.50,195.34 L740.00,195.39 L740.50,195.43 L741.00,195.48 L741.50,195.53 L742.00,195.57 L742.50,195.62 L743.00,195.67 L743.50,195.71 L744.00,195.76 L744.50,195.81 L745.00,195.85 L745.50,195.90 L746.00,195.94 L746.50,195.99 L747.00,196.03 L747.50,196.08 L748.00,196.12 L748.50,196.17 L749.00,196.21 L749.50,196.26 L750.00,196.30 L750.50,196.35 L751.00,196.39 L751.50,196.44 L752.00,196.48 L752.50,196.52 L753.00,196.57 L753.50,196.61 L754.00,196.66 L754.50,196.70 L755.00,196.74 L755.50,196.78 L756.00,196.83 L756.50,196.87 L757.00,196.91 L757.50,196.95 L758.00,197.00 L758.50,197.04 L759.00,197.08 L759.50,197.12 L760.00,197.16 L760.50,197.20 L761.00,197.24 L761.50,197.28" stroke="#22e622" stroke-width="2.5"/>
</g>
<path d="M184,14.5 V46.5 M384.3,14.5 V187" stroke="#000" stroke-width="1.8" fill="none"/>
<path d="M190,34 H378" stroke="#000" stroke-width="1.8" fill="none"/>
<path d="M184.5,34 L195,28.8 L195,39.2 Z M384,34 L373.5,28.8 L373.5,39.2 Z" fill="#000"/>
<text x="268.8" y="63.5" style="font-size:17.7px">TOF</text>
<rect x="528.5" y="19.5" width="229" height="92" fill="#fff" stroke="#b2b2b2" stroke-width="1"/>
<g fill="none" stroke-width="2.5">
<path d="M535.6,32.7 H567" stroke="#0000dc" stroke-dasharray="6.5 3"/>
<path d="M535,53.8 H567" stroke="#e01414" stroke-width="2.5"/>
<path d="M535.6,75.9 H567" stroke="#000" stroke-dasharray="6.5 3"/>
<path d="M535,97.6 H567" stroke="#22e622" stroke-width="2.8"/>
</g>
<text style="font-size:17.2px" x="571" y="38.9">Excitation signal</text>
<text style="font-size:17.2px" x="571" y="60.7">Response signal</text>
<text style="font-size:17.2px" x="571" y="82.5">Excitation signal envelope</text>
<text style="font-size:17.2px" x="571" y="104.5">Response signal envelope</text>
<text x="59.3" y="20.8" text-anchor="end">50</text><text x="59.3" y="56.8" text-anchor="end">40</text><text x="59.3" y="94.8" text-anchor="end">30</text><text x="59.3" y="131.8" text-anchor="end">20</text><text x="59.3" y="168.8" text-anchor="end">10</text><text x="59.3" y="205.8" text-anchor="end">0</text><text x="59.3" y="242.8" text-anchor="end">-10</text><text x="59.3" y="279.8" text-anchor="end">-20</text><text x="59.3" y="317.8" text-anchor="end">-30</text><text x="59.3" y="354.8" text-anchor="end">-40</text><text x="59.3" y="391.8" text-anchor="end">-50</text>
<text x="178.5" y="404" text-anchor="middle">0.5</text><text x="295.5" y="404" text-anchor="middle">1</text><text x="411.5" y="404" text-anchor="middle">1.5</text><text x="528.5" y="404" text-anchor="middle">2</text><text x="645.0" y="404" text-anchor="middle">2.5</text><text x="761.5" y="404" text-anchor="middle">3</text>
<text x="410.5" y="422.5" text-anchor="middle">Time/s</text>
<text transform="translate(27,200.5) rotate(-90)" text-anchor="middle">Amplitude/V</text>
<text x="722" y="429.5">x 10</text>
<text x="753" y="420" style="font-size:11.5px">-4</text>
</svg></body></html>
